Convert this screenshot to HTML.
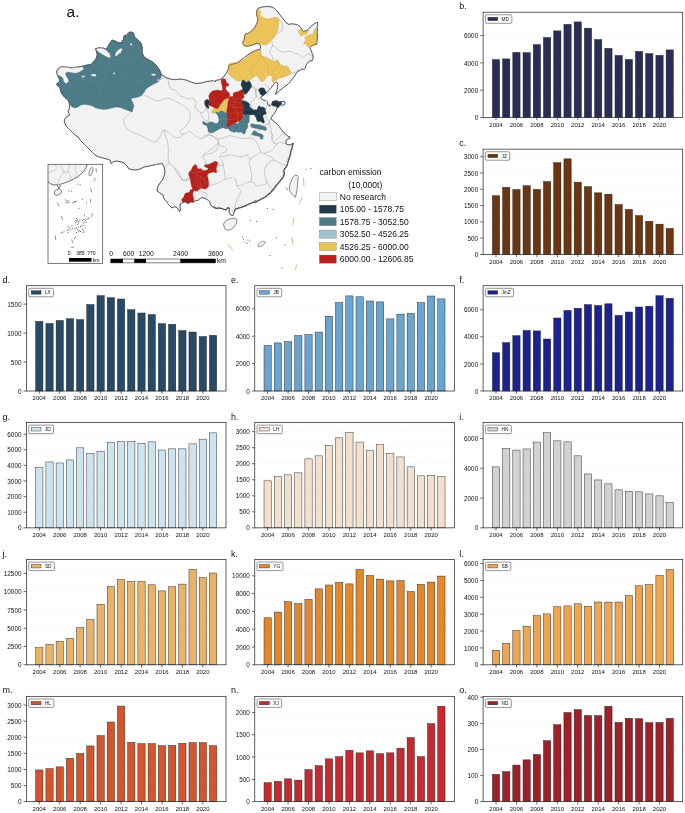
<!DOCTYPE html>
<html lang="en">
<head>
<meta charset="utf-8">
<title>Carbon emission map and city time series</title>
<style>
html,body{margin:0;padding:0;background:#fff;}
body{width:685px;height:813px;overflow:hidden;font-family:"Liberation Sans",sans-serif;}
svg{display:block;will-change:transform;}
</style>
</head>
<body>
<svg width="685" height="813" viewBox="0 0 685 813" font-family="'Liberation Sans', sans-serif">
<rect width="685" height="813" fill="#fff"/>
<text x="66.6" y="16.6" font-size="15.5" fill="#111">a.</text>
<defs><filter id="rough" x="-2%" y="-2%" width="104%" height="104%"><feTurbulence type="fractalNoise" baseFrequency="0.35" numOctaves="2" seed="3" result="n"/><feDisplacementMap in="SourceGraphic" in2="n" scale="1.6" xChannelSelector="R" yChannelSelector="G"/></filter></defs>
<g filter="url(#rough)">
<path d="M56.4,84 59,82.4 60,80 58.4,77 57,74 56.8,71 58.4,68.4 62,66.6 67,67.2 72,68 77,67.2 81,66.6 86,65.2 91,64.6 93.6,61.6 96,58.6 97.2,55 96.6,51.6 95.4,48.8 99,47.8 103.6,48.2 106.2,49.4 108,46.4 110,43 112,40 115,41 119,43 122.4,42 123.6,39 124,36 127,34.4 129,32.4 131,32 133.6,33 134.4,37 138,40 141,43 142.4,48 142,52.4 144,57 148,59.6 152,61.6 156,65 159.6,70 161.6,75 168,78.4 173,79.6 177,79.6 181,79 186,80 191,82 196,83.6 201,83 206,81.6 211,81 216,80.4 220,79.6 223.4,77 226,73.6 228,70 228.6,67 229.4,65 233,64 237,63 241,60 245,57 249,54 253,51.6 257,50 260,49.6 260.6,46.4 259.4,44 257,43.2 254,44.4 250.6,45.6 247,46.4 244,45.6 242.6,43 244,40 244.6,37 245.4,34 249,33 252.6,30 255,27 257,23 258,19 256.6,15 256.6,11 258,8.4 262,7 267,6.4 272,7 274.48,8.44 276.47,10.43 278.45,12.91 280.44,15.39 282.43,17.87 284.41,20.36 286.4,22.84 288.39,24.33 291.36,23.83 294.34,24.03 297.32,24.83 299.81,26.32 301.29,28.3 302.29,30.29 303.78,31.28 306.26,30.78 308.25,29.29 310.23,27.31 312.22,25.32 314.2,23.83 316.19,22.64 317.48,22.34 317.68,24.33 317.18,26.81 317.48,29.79 317.18,32.77 317.48,35.75 317.18,38.73 316.89,41.71 316.69,44.19 314.7,44.69 312.71,45.48 310.73,46.47 309.74,47.67 310.73,49.65 311.72,52.14 312.71,54.62 313.21,57.1 312.71,59.58 311.72,61.07 310.23,60.58 308.74,61.57 307.25,63.56 305.76,65.54 305.61,67.98 303.62,69.47 301.64,68.97 299.65,70.46 297.67,71.45 296.18,73.44 294.69,75.92 293.2,77.91 291.71,79.9 289.72,82.38 287.74,84.36 285.75,85.85 283.76,87.34 281.78,88.83 279.79,90.32 278.3,91.81 276.61,93.8 275.62,94.29 276.02,92.31 276.81,90.32 277.31,88.34 277.61,86.35 277.81,84.36 277.31,82.68 276.02,82.08 274.83,82.87 273.63,84.36 272.34,86.35 270.85,88.34 269.36,89.83 267.87,91.32 266.39,92.81 264.9,94.29 262.91,95.78 261.12,96.78 260.72,98.27 261.72,99.26 263.41,99.96 265.39,100.55 266.88,101.25 267.68,102.74 267.87,104.23 268.87,105.52 270.36,105.91 271.65,104.23 272.34,102.54 273.83,101.25 275.62,100.75 277.61,101.25 279.29,101.94 281.78,101.54 284.26,101.25 284.96,102.74 284.56,104.52 282.77,105.22 280.78,104.92 279.29,106.21 277.81,107.7 276.81,109.19 276.02,110.68 274.83,112.67 273.83,114.16 272.64,115.65 271.65,117.14 271.05,118.62 272.34,120.11 274.33,121.6 276.02,123.09 277.81,124.58 279.29,126.57 280.78,128.56 282.27,130.54 283.76,132.53 285.55,134.02 287.24,135.51 288.93,137 289.26,136.42 289.96,138.41 288.27,138.9 286.58,139.9 285.78,142.38 286.58,144.36 288.76,144.86 291.25,144.36 293.23,143.37 292.74,144.86 292.24,147.34 291.25,149.83 290.75,152.31 290.25,154.79 289.56,157.27 288.76,159.76 287.97,162.24 287.27,164.72 286.28,166.71 284.79,168.69 283.8,170.68 284.29,173.66 283.8,176.14 282.31,178.13 280.82,180.11 279.33,182.1 277.34,184.09 275.85,186.07 274.36,188.56 272.38,190.54 270.39,192.53 268.41,194.51 265.92,196.5 263.44,197.99 260.46,199.48 257.48,200.97 255,202.46 253,202.4 249,204 245,206 241,207.6 237,208.4 234.6,210 234,213 233,215.6 230.6,215 229,212 229.4,208.4 228,207.6 226,210 223,209 220,208 216,208.4 213,207 211.25,205.65 210.25,203.66 209.76,201.67 208.27,200.18 206.28,199.19 204.29,198.2 201.81,197.7 199.83,198.69 198.34,200.18 195.85,200.68 193.87,201.67 192.38,202.17 190.89,201.67 189.4,202.67 187.91,203.46 186.42,202.47 184.93,201.67 183.44,202.47 181.45,203.16 179.97,204.16 180.16,207.14 180.46,209.62 179.47,211.6 177.98,209.12 176.49,207.14 175,206.64 172,208 169,205 167,202 164,199 163,195 160,193 157,191 157.6,187 160,183 163,179 164.4,175 165,171 164,167 162.4,163.6 159,164 154,165 149,166 144,167 140,169 136,170 132,169.6 129,169 127,166 124,163 120,161.6 116,161 113,162 111,163.6 110,160 107,159 103,158 99,157 95,155 92,152 89,149 86,146 83,143 80,140 78,137 75,135 72,132 69,129 66,126 64.4,122 64.4,120 66,117 69.6,115 68,111 69.6,108 69.6,104 68,100 65.6,98 63,95.6 61,92 60,88 57,85Z" fill="#f2f2f2" stroke="#3c3c3c" stroke-width="0.55" stroke-linejoin="round" />
<path d="M161,79 165,78 168,80 169,85 171,89 175,90 178,93 180,96 184,97 188,99 192,98 195,100 196,104 195,108 198,111 201,113 204,112 206.4,108" fill="none" stroke="#8c8c8c" stroke-width="0.4" stroke-linejoin="round" stroke-linecap="round"/>
<path d="M144,95 148,97 152,99 157,101 162,100 166,98 171,99 175,101 179,103 183,105 187,108 190,112 190.4,117 189,121 187,125 184,128 181,130 180,132.4 183,134.4 186,133 189,131" fill="none" stroke="#8c8c8c" stroke-width="0.4" stroke-linejoin="round" stroke-linecap="round"/>
<path d="M132.4,111 128,115 124.4,118 124,124 127,129 132,132 138,134.4 144,137 149,140 153,142 157,141 160,137 162,132 164,129.6 168,132 172,135.6 176,138 180,137 183,134.4" fill="none" stroke="#8c8c8c" stroke-width="0.4" stroke-linejoin="round" stroke-linecap="round"/>
<path d="M164,130 165.6,136 167.6,142 168.4,150 168,158 169,163 166.4,166 163.6,169.6" fill="none" stroke="#8c8c8c" stroke-width="0.4" stroke-linejoin="round" stroke-linecap="round"/>
<path d="M169,163 173,166 176,171 179,176 183,180 188,181 190,178" fill="none" stroke="#8c8c8c" stroke-width="0.4" stroke-linejoin="round" stroke-linecap="round"/>
<path d="M189,131 193,134 197,137 201,139 205,137 209,135 213,136 216,139 219,143 218,147 215.6,151 212,153 208,154 204,156" fill="none" stroke="#8c8c8c" stroke-width="0.4" stroke-linejoin="round" stroke-linecap="round"/>
<path d="M206.4,108 208,112 209,117 208,121 210,124 214,122.4" fill="none" stroke="#8c8c8c" stroke-width="0.4" stroke-linejoin="round" stroke-linecap="round"/>
<path d="M201,113 202,117 205,120 208,121" fill="none" stroke="#8c8c8c" stroke-width="0.4" stroke-linejoin="round" stroke-linecap="round"/>
<path d="M175,167.91 176.99,169.9 178.97,173.37 180.96,177.34 182.45,179.83 184.43,180.32 186.92,179.33 188.9,178.34 189.7,177.34" fill="none" stroke="#8c8c8c" stroke-width="0.4" stroke-linejoin="round" stroke-linecap="round"/>
<path d="M197.34,190.95 199.33,192.24 201.81,191.74 204.79,192.54 206.78,193.73 207.27,195.71 205.78,197.2 204.29,198.2" fill="none" stroke="#8c8c8c" stroke-width="0.4" stroke-linejoin="round" stroke-linecap="round"/>
<path d="M271.9,41.61 272.63,45.26 270.44,49.64 269.71,52.55 271.9,55.47 273.36,60.58" fill="none" stroke="#8c8c8c" stroke-width="0.4" stroke-linejoin="round" stroke-linecap="round"/>
<path d="M289.42,70.8 292.34,72.99 295.26,72.26 298.18,70.07 300.36,71.53" fill="none" stroke="#8c8c8c" stroke-width="0.4" stroke-linejoin="round" stroke-linecap="round"/>
<path d="M278.03,18.98 281.39,21.9 282.85,27.01 281.39,31.39 278.03,32.85" fill="none" stroke="#8c8c8c" stroke-width="0.4" stroke-linejoin="round" stroke-linecap="round"/>
<path d="M250,86.35 251.99,87.34 254.47,88.83 255.96,91.32 255.46,94.29 256.45,96.78 258.94,98.27 260.72,98.27" fill="none" stroke="#8c8c8c" stroke-width="0.4" stroke-linejoin="round" stroke-linecap="round"/>
<path d="M264.9,84.36 266.88,85.85 268.87,87.34 269.86,89.33" fill="none" stroke="#8c8c8c" stroke-width="0.4" stroke-linejoin="round" stroke-linecap="round"/>
<path d="M267.87,104.23 266.39,106.71 264.9,109.19 265.89,111.67 264.9,114.65 266.39,117.63 268.37,120.61 269.36,123.09" fill="none" stroke="#8c8c8c" stroke-width="0.4" stroke-linejoin="round" stroke-linecap="round"/>
<path d="M271.05,118.62 269.86,120.61 269.36,123.09 269.86,126.57 271.35,129.55 270.85,132.53 272.34,134.51 271.35,137.49 272.84,140.47 273.83,143.45" fill="none" stroke="#8c8c8c" stroke-width="0.4" stroke-linejoin="round" stroke-linecap="round"/>
<path d="M283.76,132.53 281.78,134.51 279.79,136.5 277.81,138.49 275.82,140.47" fill="none" stroke="#8c8c8c" stroke-width="0.4" stroke-linejoin="round" stroke-linecap="round"/>
<path d="M269.36,123.09 266.88,124.58 263.9,125.58 260.92,128.56 257.94,130.54 254.97,133.52 251.99,134.51 250,136.5" fill="none" stroke="#8c8c8c" stroke-width="0.4" stroke-linejoin="round" stroke-linecap="round"/>
<path d="M251.64,85.92 254.12,86.92 256.11,88.9 255.61,91.88 257.1,94.86 255.61,97.84 253.62,99.83 251.64,101.32 249.65,104.59" fill="none" stroke="#8c8c8c" stroke-width="0.4" stroke-linejoin="round" stroke-linecap="round"/>
<path d="M256.11,88.9 258.59,90.39" fill="none" stroke="#8c8c8c" stroke-width="0.4" stroke-linejoin="round" stroke-linecap="round"/>
<path d="M266.73,92.87 268.02,94.86" fill="none" stroke="#8c8c8c" stroke-width="0.4" stroke-linejoin="round" stroke-linecap="round"/>
<path d="M272,45.18 274.98,46.67 277.46,49.65 280.44,51.64 283.92,52.14 286.9,51.64 289.87,51.14 292.85,52.14 295.83,54.12 298.32,53.62 300.8,56.11 302.78,57.6 304.77,56.11 306.76,54.62 309.24,54.12 311.72,55.11 312.91,56.6" fill="none" stroke="#8c8c8c" stroke-width="0.4" stroke-linejoin="round" stroke-linecap="round"/>
<path d="M223.36,138.03 229.2,135.55 234.31,136.57 239.42,138.03 243.8,138.76 248.91,138.03 253.28,138.76 256.2,141.68" fill="none" stroke="#8c8c8c" stroke-width="0.4" stroke-linejoin="round" stroke-linecap="round"/>
<path d="M256.2,141.68 258.39,145.33 259.85,148.98 260.58,151.9 264.23,153.36" fill="none" stroke="#8c8c8c" stroke-width="0.4" stroke-linejoin="round" stroke-linecap="round"/>
<path d="M268.61,130 271.53,132.92 272.99,136.57 271.53,140.22 274.45,143.14 276.64,143.87" fill="none" stroke="#8c8c8c" stroke-width="0.4" stroke-linejoin="round" stroke-linecap="round"/>
<path d="M276.64,143.87 274.45,147.52 271.53,150.44 268.61,151.9 264.23,153.36" fill="none" stroke="#8c8c8c" stroke-width="0.4" stroke-linejoin="round" stroke-linecap="round"/>
<path d="M276.64,143.87 279.56,142.41 283.21,143.14 286.86,143.87 289.05,144.6" fill="none" stroke="#8c8c8c" stroke-width="0.4" stroke-linejoin="round" stroke-linecap="round"/>
<path d="M204.38,135.84 208.76,134.38 213.14,136.57 218.98,138.76 223.36,138.03" fill="none" stroke="#8c8c8c" stroke-width="0.4" stroke-linejoin="round" stroke-linecap="round"/>
<path d="M218.98,138.76 218.25,143.14 220.44,146.06 224.82,146.79 227.01,148.98 225.55,151.9 221.9,153.36 219.71,155.55 220.44,158.47 222.63,161.39 223.36,165.04" fill="none" stroke="#8c8c8c" stroke-width="0.4" stroke-linejoin="round" stroke-linecap="round"/>
<path d="M218.25,143.14 214.6,146.06 211.68,148.98 207.3,151.9 203.65,154.09 202.92,157.74 205.84,160.66 204.38,162.85" fill="none" stroke="#8c8c8c" stroke-width="0.4" stroke-linejoin="round" stroke-linecap="round"/>
<path d="M221.9,156.72 227.01,155.55 231.39,154.53 236.5,156.28 241.61,157.01 245.26,155.55 246.72,154.09 248.18,157.01 250.36,158.47 255.47,155.55 260.58,151.9" fill="none" stroke="#8c8c8c" stroke-width="0.4" stroke-linejoin="round" stroke-linecap="round"/>
<path d="M250.36,158.47 248.91,162.85 250.36,167.23 251.09,171.61 251.82,176.72 251.39,181.82 254.74,183.28" fill="none" stroke="#8c8c8c" stroke-width="0.4" stroke-linejoin="round" stroke-linecap="round"/>
<path d="M223.36,165.04 224.09,169.42 224.82,173.8 225.55,177.45 224.09,179.64" fill="none" stroke="#8c8c8c" stroke-width="0.4" stroke-linejoin="round" stroke-linecap="round"/>
<path d="M208.76,186.2 213.14,184.74 217.52,183.28 221.9,181.09 224.09,179.64 228.47,178.18 232.85,177.45 235.77,179.64 236.5,183.28 237.23,186.2 242.34,184.74 246.72,182.55 251.39,181.82" fill="none" stroke="#8c8c8c" stroke-width="0.4" stroke-linejoin="round" stroke-linecap="round"/>
<path d="M237.23,186.2 239.42,188.39 240.88,191.31 239.42,194.96 237.23,198.61 235.77,202.99 235.04,207.37 234.31,211.02" fill="none" stroke="#8c8c8c" stroke-width="0.4" stroke-linejoin="round" stroke-linecap="round"/>
<path d="M254.74,183.28 256.2,186.2 259.85,185.47 264.23,184.74 267.15,183.28 265.69,178.18 264.23,173.8 264.96,168.69 267.15,164.31 270.07,161.39 272.99,159.93 275.18,160.66" fill="none" stroke="#8c8c8c" stroke-width="0.4" stroke-linejoin="round" stroke-linecap="round"/>
<path d="M264.23,153.36 267.15,155.55 271.53,157.01 275.18,160.66 278.83,162.85 282.48,164.31 285.4,165.04" fill="none" stroke="#8c8c8c" stroke-width="0.4" stroke-linejoin="round" stroke-linecap="round"/>
<path d="M267.15,183.28 270.07,186.2 272.26,188.39 272.99,190.58" fill="none" stroke="#8c8c8c" stroke-width="0.4" stroke-linejoin="round" stroke-linecap="round"/>
<path d="M204.38,162.85 208.03,164.31 211.68,162.85 214.6,164.31 217.52,162.85 219.71,165.77 223.36,165.04" fill="none" stroke="#8c8c8c" stroke-width="0.4" stroke-linejoin="round" stroke-linecap="round"/>
<path d="M131,32 133.6,33 134.4,37 138,40 141,43 142.4,48 142,52.4 144,57 148,59.6 152,61.6 156,65 159.6,70 161.6,75 160.8,79 158,82 154,84 149.6,86.4 146,89 144,92.4 141.6,95.6 138,97.2 134,98 131,98.6 132.4,102 134,106 133,109.6 131.6,112 128,110.4 124,109 120,107.6 116,107 112,108 108,109 104,109.6 100,109 96,108 92.4,106 89,105 85,104.4 81,105 78,107 75,108 72,107 69.6,104 68,100 65.6,98 63,95.6 61,92 60,88 57,85 56.4,84 59,82.4 60,80 58.4,77 57,74 56.8,71 58.4,68.4 62,66.6 67,67.2 72,68 77,67.2 81,66.6 86,65.2 91,64.6 93.6,61.6 96,58.6 97.2,55 96.6,51.6 95.4,48.8 99,47.8 103.6,48.2 106.2,49.4 108,46.4 110,43 112,40 115,41 119,43 122.4,42 123.6,39 124,36 127,34.4 129,32.4Z" fill="#4e7b88" stroke="#436c78" stroke-width="0.3" stroke-linejoin="round" />
<path d="M117.43,60.03 120.05,65.28 123.56,68.78 125.31,75.79 132.31,79.29 141.07,82.79" fill="none" stroke="#6b8f9a" stroke-width="0.3" stroke-linejoin="round" stroke-linecap="round"/>
<path d="M107.79,66.16 106.04,75.79 100.79,84.54 99.91,95.05 101.66,107.31" fill="none" stroke="#6b8f9a" stroke-width="0.3" stroke-linejoin="round" stroke-linecap="round"/>
<path d="M83.27,79.29 93.78,82.79 100.79,84.54" fill="none" stroke="#6b8f9a" stroke-width="0.3" stroke-linejoin="round" stroke-linecap="round"/>
<path d="M70.14,88.05 68.39,96.8 69.26,102.06" fill="none" stroke="#6b8f9a" stroke-width="0.3" stroke-linejoin="round" stroke-linecap="round"/>
<path d="M70.14,88.05 76.27,81.04 83.27,79.29" fill="none" stroke="#6b8f9a" stroke-width="0.3" stroke-linejoin="round" stroke-linecap="round"/>
<path d="M127.06,44.26 127.06,54.77 125.31,61.78 117.43,60.03 109.54,59.15 107.79,66.16 93.78,65.28" fill="none" stroke="#6b8f9a" stroke-width="0.3" stroke-linejoin="round" stroke-linecap="round"/>
<path d="M141.07,60.03 141.94,70.53 141.07,82.79" fill="none" stroke="#6b8f9a" stroke-width="0.3" stroke-linejoin="round" stroke-linecap="round"/>
<path d="M125.31,61.78 132.31,59.15 141.07,60.03" fill="none" stroke="#6b8f9a" stroke-width="0.3" stroke-linejoin="round" stroke-linecap="round"/>
<path d="M95.4,48.8 99,47.8 103.6,48.2 106.6,50.4 109.6,53.6 110.8,56.8 109,58 105,56 101,53.6 98,51.6Z" fill="#f2f2f2" stroke="#888" stroke-width="0.3" stroke-linejoin="round" />
<path d="M115,55 116,52.4 118.8,49.6 121.4,48 122.6,49.8 120.2,52.4 117.8,55 116.2,56.6Z" fill="#f2f2f2" stroke="#888" stroke-width="0.3" stroke-linejoin="round" />
<path d="M56.83,73.83 57.44,70.32 59.19,68.13 61.38,66.82 64.45,66.21 67.51,66.38 69.7,67.26 71.89,68.13 74.08,66.82 76.27,66.38 78.9,67.26 81.52,66.82 83.71,67.7 83.27,69.45 81.52,70.76 79.33,72.08 76.71,72.95 73.64,72.95 71.02,72.51 68.39,72.08 66.2,72.51 65.32,73.83 66.2,76.02 67.51,78.2 68.56,80.39 67.95,82.58 66.2,83.46 64.45,82.58 63.57,80.39 62.96,78.2 61.82,76.89 60.07,76.02 58.32,75.58 57.01,74.7Z" fill="#f2f2f2" stroke="#888" stroke-width="0.3" stroke-linejoin="round" />
<path d="M81.09,77.07 82.22,76.02 84.15,75.49 85.2,76.02 84.33,76.89 82.57,77.42Z" fill="#f2f2f2" stroke="#888" stroke-width="0.3" stroke-linejoin="round" />
<path d="M90.72,74.44 92.91,74.09 95.53,74.26 96.41,75.58 95.53,76.54 93.35,76.19 91.33,75.67Z" fill="#f2f2f2" stroke="#888" stroke-width="0.3" stroke-linejoin="round" />
<path d="M150.6,74.4 153.2,73.8 156,74.2 155.6,75.6 152.4,75.8Z" fill="#f2f2f2" stroke="#888" stroke-width="0.3" stroke-linejoin="round" />
<path d="M157.2,79.6 159.2,79.2 159.4,81 157.6,81.2Z" fill="#f2f2f2" stroke="#888" stroke-width="0.3" stroke-linejoin="round" />
<path d="M113.2,72.8 115,72.4 115.2,74 113.4,74.2Z" fill="#f2f2f2" stroke="#888" stroke-width="0.3" stroke-linejoin="round" />
<path d="M130.2,43.6 132,43.2 132.2,45.2 130.4,45.4Z" fill="#f2f2f2" stroke="#888" stroke-width="0.3" stroke-linejoin="round" />
<path d="M256.6,11 259,9.6 261,12 260,15 263,17.6 267,19 271,18.4 275,17 278,18 279,21 278.6,25 278,29 277,33 275,36 272.6,39 270,42 267,44.4 263,45 260,43.6 257,43 254,44.4 250.6,45.6 247,46.4 244,45.6 242.6,43 244,40 244.6,37 245.4,34 249,33 252.6,30 255,27 257,23 258,19 256.6,15Z" fill="#ecc358" stroke="#b8973f" stroke-width="0.3" stroke-linejoin="round" />
<path d="M228.77,64.36 229.97,63.37 231.95,63.07 234.43,62.68 236.92,62.87 238.9,61.88 240.89,60.39 243.37,59.9 244.86,58.41 246.85,56.92 248.83,54.93 250.82,53.44 252.81,51.75 254.79,50.76 256.78,50.16 259.26,49.77 260.75,49.97 260.95,52.45 261.25,55.43 263.23,56.42 265.71,56.92 267.7,57.91 270.18,59.4 272.67,60.89 274.65,61.39 276.64,59.9 278.13,60.39 279.12,62.38 280.11,64.36 282.1,65.36 284.58,66.35 287.07,65.85 288.56,67.84 290.04,70.32 291.04,72.81 290.54,74.29 288.56,75.29 286.57,75.98 284.58,76.78 282.6,77.27 280.61,77.77 278.62,78.76 276.64,79.76 275.15,81.25 273.66,82.24 272.17,81.25 271.67,79.26 272.67,77.27 271.18,75.78 269.19,75.29 267.7,76.28 266.21,77.77 264.72,79.26 263.73,81.25 261.74,81.54 259.76,80.25 259.26,78.27 258.27,76.78 256.78,75.78 254.79,76.28 253.3,77.27 251.81,78.76 249.83,80.25 248.34,81.25 246.35,80.95 244.86,80.25 243.37,79.76 241.39,80.55 239.4,81.25 237.41,80.75 235.43,79.76 233.44,78.27 231.45,76.78 229.47,75.29 227.98,73.8 228.97,71.81 229.47,69.33 228.48,66.85Z" fill="#ecc358" stroke="#b8973f" stroke-width="0.3" stroke-linejoin="round" />
<path d="M305.27,36.74 306.76,35.75 308.74,34.96 310.73,34.76 312.22,34.26 313.51,32.77 314.2,30.29 315.2,28.8 316.49,28.8 316.89,31.78 317.18,35.75 316.89,39.72 316.69,44.19 314.7,44.69 312.71,45.48 310.73,46.47 309.54,47.47 307.95,46.67 306.56,45.48 307.25,44.19 305.76,43.69 303.98,43.89 303.58,42.5 304.77,41.51 306.26,40.71 305.76,39.23 304.57,38.23Z" fill="#ecc358" stroke="#b8973f" stroke-width="0.3" stroke-linejoin="round" />
<path d="M298.02,30.78 299.31,29.79 300.8,29.29 301.79,30.78 303.28,31.98 305.27,31.78 307.25,30.98 308.94,30.29 308.25,32.27 306.76,33.76 305.27,34.56 303.58,34.76 302.29,35.55 300.8,35.95 299.81,34.26 298.81,32.57Z" fill="#ecc358" stroke="#b8973f" stroke-width="0.3" stroke-linejoin="round" />
<path d="M260.95,52.45 259.76,57.91 257.77,61.39 254.79,64.36 251.81,66.35 250.82,70.82 251.81,74.79 253.3,77.27" fill="none" stroke="#b39a52" stroke-width="0.3" stroke-linejoin="round" stroke-linecap="round"/>
<path d="M261.25,55.43 264.72,60.89 268.2,64.86 268.69,68.83 267.7,71.81 269.19,75.29" fill="none" stroke="#b39a52" stroke-width="0.3" stroke-linejoin="round" stroke-linecap="round"/>
<path d="M279.12,62.38 277.63,66.35 274.65,69.83 272.17,73.8 272.67,77.27" fill="none" stroke="#b39a52" stroke-width="0.3" stroke-linejoin="round" stroke-linecap="round"/>
<path d="M282.1,65.36 281.11,69.83 278.62,73.8 275.15,77.77 273.66,82.24" fill="none" stroke="#b39a52" stroke-width="0.3" stroke-linejoin="round" stroke-linecap="round"/>
<path d="M284.58,66.35 284.09,70.82 282.6,74.79 280.61,77.77" fill="none" stroke="#b39a52" stroke-width="0.3" stroke-linejoin="round" stroke-linecap="round"/>
<path d="M288.56,67.84 286.57,71.81 284.58,76.78" fill="none" stroke="#b39a52" stroke-width="0.3" stroke-linejoin="round" stroke-linecap="round"/>
<path d="M202.48,121.67 203.97,121.18 205.76,122.67 207.45,123.16 209.43,122.17 211.42,121.87 213.41,122.67 215.39,123.46 217.38,123.16 218.67,121.67 218.87,119.19 218.37,116.71 217.38,114.72 214.9,112.54 216.39,111.94 218.37,112.24 219.86,110.95 221.65,110.55 223.34,111.25 224.83,111.94 226.61,112.54 227.01,114.23 227.31,116.71 227.61,119.69 227.31,122.17 226.81,124.65 227.01,127.14 228.3,126.64 230.29,125.65 232.27,124.45 234.26,123.46 235.75,122.47 236.74,123.66 238.23,123.86 239.23,121.18 240.71,120.18 242.2,118.69 242.9,116.21 243.69,114.92 245.18,114.72 247.17,114.52 249.16,114.72 249.45,116.71 249.16,119.19 249.45,121.18 248.66,122.67 247.47,124.16 247.86,126.14 247.47,128.13 246.18,129.62 245.68,131.6 244.69,133.59 243.69,134.38 242.2,132.6 240.22,132.1 238.23,132.6 236.25,131.6 234.26,132.4 232.27,131.8 230.29,131.11 228.8,129.62 227.81,128.13 226.32,129.12 224.83,128.62 223.34,127.63 221.35,128.13 219.36,129.12 217.38,130.11 215.89,131.11 213.9,132.1 211.92,132.6 209.93,133.09 208.44,132.1 207.94,130.11 207.75,128.13 206.95,126.14 205.46,125.15 203.48,124.45 202.78,123.16Z" fill="#4e7b88" stroke="#436c78" stroke-width="0.3" stroke-linejoin="round" />
<path d="M250.65,124.16 252.14,123.46 254.12,124.16 256.11,124.45 258.59,124.65 261.07,125.15 263.56,126.14 266.04,127.14 266.73,128.62 266.34,130.11 264.55,130.41 262.56,129.62 260.58,129.42 258.59,129.12 256.6,128.62 254.62,128.13 252.63,127.63 251.14,126.64 250.45,125.45Z" fill="#4e7b88" stroke="#436c78" stroke-width="0.3" stroke-linejoin="round" />
<path d="M253.62,131.11 255.11,130.61 256.41,132.1 258.09,133.09 260.08,133.59 262.07,134.58 263.36,135.58 263.06,137.56 262.36,139.55 260.77,139.05 260.08,137.07 258.59,136.37 256.6,136.07 254.62,135.58 252.63,135.08 251.44,133.79 252.43,132.4Z" fill="#4e7b88" stroke="#436c78" stroke-width="0.3" stroke-linejoin="round" />
<path d="M229.29,97.34 228.8,99.33 228.3,101.32 227.81,103.8 227.61,106.28 227.01,108.76 226.81,111.25 226.61,112.54 224.83,111.94 223.34,111.25 221.65,110.55 219.86,110.95 218.37,112.24 216.39,111.94 214.9,112.54 213.41,113.73 212.12,113.23 211.72,111.25 212.41,109.26 213.9,108.57 215.39,108.27 217.38,108.76 218.67,107.27 219.86,105.29 221.35,103.3 222.84,101.32 224.33,99.83 226.02,98.83 227.81,98.04Z" fill="#ecc358" stroke="#b8973f" stroke-width="0.3" stroke-linejoin="round" />
<path d="M221.35,79.47 223.34,78.48 225.32,79.17 226.02,81.45 227.81,83.44 229.29,84.93 227.81,85.92 226.02,86.42 225.62,88.41 226.61,90.39 228.3,91.88 229.59,93.67 229.79,95.85 229.29,97.34 227.81,98.04 226.02,98.83 224.33,99.83 222.84,101.32 221.35,103.3 219.86,105.29 218.67,107.27 217.38,108.76 215.39,108.27 213.41,107.27 211.42,106.28 209.43,105.59 208.44,104.29 208.94,102.31 209.43,100.32 209.14,98.34 208.74,96.35 209.43,94.36 210.72,92.38 212.41,90.89 214.9,90.39 217.38,90.09 219.86,90.39 222.05,90.69 222.64,88.9 222.34,86.42 221.65,83.94 221.05,81.45Z" fill="#b8211b" stroke="#8f1a15" stroke-width="0.3" stroke-linejoin="round" />
<path d="M242.2,89.9 243.69,90.89 243.89,92.87 243.5,94.86 244.19,96.35 243.69,98.04 242.2,99.33 241.21,101.02 241.71,102.81 242.9,104.79 243.69,106.78 243.5,109.26 242.9,111.25 242.7,113.73 242.9,116.21 242.2,118.69 240.71,120.18 239.23,121.18 237.54,121.87 235.75,122.47 234.26,123.46 232.27,124.45 230.29,125.65 228.3,126.64 227.01,127.14 226.81,124.65 227.31,122.17 227.61,119.69 227.31,116.71 227.01,114.23 226.81,111.25 227.01,108.76 227.61,106.28 227.81,103.8 228.3,101.32 228.8,99.33 229.29,97.34 230.78,96.35 232.27,96.65 233.27,95.36 232.97,93.67 234.26,92.38 236.25,91.88 238.23,91.39 239.72,90.69 240.91,89.9Z" fill="#b8211b" stroke="#8f1a15" stroke-width="0.3" stroke-linejoin="round" />
<path d="M242.2,80.46 243.69,79.97 245.18,81.45 246.67,82.15 248.66,80.96 250.15,81.95 251.14,83.94 251.64,85.92 250.84,87.91 249.65,89.4 248.66,90.89 247.47,92.38 246.18,93.87 244.89,94.66 243.89,92.87 243.69,90.89 242.2,89.9 242.7,87.91 241.71,86.42 240.91,84.43 241.51,82.45Z" fill="#1f3947" stroke="#16282f" stroke-width="0.3" stroke-linejoin="round" />
<path d="M259.09,88.9 260.58,87.91 262.56,87.71 264.35,88.41 265.04,89.9 265.74,91.39 266.73,92.87 265.54,93.87 264.05,94.36 263.06,95.85 261.57,95.36 260.08,93.87 259.38,91.88 258.59,90.39Z" fill="#1f3947" stroke="#16282f" stroke-width="0.3" stroke-linejoin="round" />
<path d="M241.21,101.02 242.7,100.62 244.69,101.02 246.67,101.81 248.66,103 249.65,104.59 249.45,106.58 250.65,107.77 252.14,108.76 253.62,110.25 255.11,109.56 256.41,109.96 257.6,108.76 258.09,106.78 258.79,105.78 260.08,106.58 261.37,107.27 262.76,106.98 264.35,107.77 265.54,108.76 265.04,110.55 266.04,112.24 266.34,113.73 265.04,114.23 263.56,114.72 262.76,116.21 263.36,118.2 264.05,120.18 264.55,122.17 263.56,123.16 262.07,122.47 260.58,121.18 259.09,121.67 257.6,121.47 256.6,119.69 256.11,117.7 255.11,116.21 254.12,114.72 252.63,114.52 251.14,114.92 249.16,114.72 247.17,114.52 245.18,114.72 243.69,114.92 242.9,113.73 242.9,111.25 243.5,109.26 243.69,106.78 242.9,104.79 241.71,102.81Z" fill="#1f3947" stroke="#16282f" stroke-width="0.3" stroke-linejoin="round" />
<path d="M271.65,104.23 272.34,102.54 273.83,101.25 275.62,100.75 277.61,101.25 279.29,101.94 281.28,101.74 281.78,103.23 280.98,104.52 279.79,105.22 278.8,106.51 277.61,107.7 276.32,107.2 275.32,105.91 273.83,106.21 272.64,105.71Z" fill="#1f3947" stroke="#16282f" stroke-width="0.3" stroke-linejoin="round" />
<path d="M205.46,100.32 207.15,99.33 208.74,99.83 209.14,101.81 208.74,104 208.44,105.78 209.14,107.27 208.44,108.76 206.95,107.77 205.46,106.28 204.77,104.29 204.47,102.31Z" fill="#1f3947" stroke="#16282f" stroke-width="0.3" stroke-linejoin="round" />
<path d="M194.36,164.93 195.85,164.43 196.85,165.92 197.05,167.91 198.83,168.9 200.62,168.41 201.81,169.4 203.3,170.39 205.29,170.39 207.27,169.9 208.27,168.41 206.78,167.41 204.79,166.92 204.29,165.43 205.78,164.43 207.77,164.73 209.76,163.94 211.74,163.44 213.23,162.15 214.72,161.16 216.71,161.75 217.9,162.94 217.2,164.93 216.71,166.92 216.21,168.9 216.71,170.89 216.51,172.87 215.22,172.68 213.73,171.88 211.74,172.38 209.76,172.87 208.27,173.87 207.27,175.36 207.77,177.34 208.27,179.83 208.57,182.31 208.76,184.79 208.27,186.78 206.78,188.27 205.29,189.26 203.8,188.76 202.31,188.27 200.62,188.76 198.83,189.76 197.34,190.95 195.85,191.25 194.36,190.55 193.37,191.74 192.68,193.73 192.87,195.71 193.37,197.7 193.87,199.69 193.67,201.67 192.38,202.17 190.89,201.67 189.4,202.67 187.91,203.46 186.42,202.47 184.93,201.67 183.44,202.17 181.95,201.18 181.45,199.69 182.75,198.2 183.94,196.71 184.43,194.72 185.43,193.23 187.41,192.74 189.4,192.24 190.09,190.25 191.39,189.56 192.68,189.26 191.88,187.27 191.09,184.79 190.69,182.31 190.39,179.83 189.7,177.34 188.9,175.36 188.7,173.37 189.7,171.39 191.39,169.9 192.08,167.91 192.87,166.42 193.87,165.43Z" fill="#b8211b" stroke="#8f1a15" stroke-width="0.3" stroke-linejoin="round" />
<path d="M230.78,96.35 232.77,98.34 235.75,98.83 239.23,98.34 242.2,99.33" fill="none" stroke="#cf7671" stroke-width="0.3" stroke-linejoin="round" stroke-linecap="round"/>
<path d="M228.8,99.33 231.78,100.82 234.76,101.81 237.74,102.81 241.71,102.81" fill="none" stroke="#cf7671" stroke-width="0.3" stroke-linejoin="round" stroke-linecap="round"/>
<path d="M227.81,103.8 230.78,104.79 232.77,106.78 235.75,107.77 239.72,107.27 243.69,106.78" fill="none" stroke="#cf7671" stroke-width="0.3" stroke-linejoin="round" stroke-linecap="round"/>
<path d="M234.76,101.81 234.26,104.79 232.77,106.78" fill="none" stroke="#cf7671" stroke-width="0.3" stroke-linejoin="round" stroke-linecap="round"/>
<path d="M227.61,114.23 230.78,113.73 233.76,112.74 237.24,113.23 239.72,112.74 242.9,111.25" fill="none" stroke="#cf7671" stroke-width="0.3" stroke-linejoin="round" stroke-linecap="round"/>
<path d="M235.75,107.77 236.25,110.75 237.24,113.23 237.74,116.71 237.54,121.87" fill="none" stroke="#cf7671" stroke-width="0.3" stroke-linejoin="round" stroke-linecap="round"/>
<path d="M227.31,119.69 229.79,119.19 232.77,119.69 234.76,118.69 237.74,116.71" fill="none" stroke="#cf7671" stroke-width="0.3" stroke-linejoin="round" stroke-linecap="round"/>
<path d="M222.05,90.69 223.34,91.88 226.02,91.39 228.3,91.88" fill="none" stroke="#cf7671" stroke-width="0.3" stroke-linejoin="round" stroke-linecap="round"/>
<path d="M189.7,171.39 192.87,172.87 196.35,172.38 199.83,171.39 203.3,170.39" fill="none" stroke="#cf7671" stroke-width="0.3" stroke-linejoin="round" stroke-linecap="round"/>
<path d="M196.35,172.38 197.34,175.85 196.35,179.33 197.34,183.8 198.83,189.76" fill="none" stroke="#cf7671" stroke-width="0.3" stroke-linejoin="round" stroke-linecap="round"/>
<path d="M197.34,175.85 200.82,176.35 203.8,178.83 207.27,175.36" fill="none" stroke="#cf7671" stroke-width="0.3" stroke-linejoin="round" stroke-linecap="round"/>
<path d="M200.82,176.35 199.83,180.82 201.02,184.79 200.62,188.76" fill="none" stroke="#cf7671" stroke-width="0.3" stroke-linejoin="round" stroke-linecap="round"/>
<path d="M203.8,178.83 204.79,182.81 208.57,182.31" fill="none" stroke="#cf7671" stroke-width="0.3" stroke-linejoin="round" stroke-linecap="round"/>
<path d="M249.65,104.59 251.64,105.78 253.62,110.25" fill="none" stroke="#50697a" stroke-width="0.3" stroke-linejoin="round" stroke-linecap="round"/>
<path d="M257.6,108.76 259.58,110.75 260.08,114.72 262.76,116.21" fill="none" stroke="#50697a" stroke-width="0.3" stroke-linejoin="round" stroke-linecap="round"/>
<path d="M261.57,107.27 262.07,110.75 265.04,110.55" fill="none" stroke="#50697a" stroke-width="0.3" stroke-linejoin="round" stroke-linecap="round"/>
<path d="M254.12,114.72 256.6,114.23 259.58,110.75" fill="none" stroke="#50697a" stroke-width="0.3" stroke-linejoin="round" stroke-linecap="round"/>
<path d="M244.69,101.02 245.18,104.79 243.69,106.78" fill="none" stroke="#50697a" stroke-width="0.3" stroke-linejoin="round" stroke-linecap="round"/>
<path d="M243.5,109.26 246.67,109.76 250.65,107.77" fill="none" stroke="#50697a" stroke-width="0.3" stroke-linejoin="round" stroke-linecap="round"/>
<path d="M218.87,119.19 221.85,119.69 224.83,118.69 227.61,119.69" fill="none" stroke="#7d9ca5" stroke-width="0.3" stroke-linejoin="round" stroke-linecap="round"/>
<path d="M217.38,123.16 219.86,124.65 221.35,128.13" fill="none" stroke="#7d9ca5" stroke-width="0.3" stroke-linejoin="round" stroke-linecap="round"/>
<path d="M238.23,123.86 239.72,126.64 238.73,129.62 238.23,132.6" fill="none" stroke="#7d9ca5" stroke-width="0.3" stroke-linejoin="round" stroke-linecap="round"/>
<path d="M243.69,114.92 244.19,118.69 242.7,121.67 243.69,124.65 247.47,124.16" fill="none" stroke="#7d9ca5" stroke-width="0.3" stroke-linejoin="round" stroke-linecap="round"/>
<path d="M232.27,124.45 233.27,127.63 232.27,131.8" fill="none" stroke="#7d9ca5" stroke-width="0.3" stroke-linejoin="round" stroke-linecap="round"/>
<path d="M209.43,122.17 210.92,126.64 209.93,133.09" fill="none" stroke="#7d9ca5" stroke-width="0.3" stroke-linejoin="round" stroke-linecap="round"/>
<path d="M56.4,84 59,82.4 60,80 58.4,77 57,74 56.8,71 58.4,68.4 62,66.6 67,67.2 72,68 77,67.2 81,66.6 86,65.2 91,64.6 93.6,61.6 96,58.6 97.2,55 96.6,51.6 95.4,48.8 99,47.8 103.6,48.2 106.2,49.4 108,46.4 110,43 112,40 115,41 119,43 122.4,42 123.6,39 124,36 127,34.4 129,32.4 131,32 133.6,33 134.4,37 138,40 141,43 142.4,48 142,52.4 144,57 148,59.6 152,61.6 156,65 159.6,70 161.6,75 168,78.4 173,79.6 177,79.6 181,79 186,80 191,82 196,83.6 201,83 206,81.6 211,81 216,80.4 220,79.6 223.4,77 226,73.6 228,70 228.6,67 229.4,65 233,64 237,63 241,60 245,57 249,54 253,51.6 257,50 260,49.6 260.6,46.4 259.4,44 257,43.2 254,44.4 250.6,45.6 247,46.4 244,45.6 242.6,43 244,40 244.6,37 245.4,34 249,33 252.6,30 255,27 257,23 258,19 256.6,15 256.6,11 258,8.4 262,7 267,6.4 272,7 274.48,8.44 276.47,10.43 278.45,12.91 280.44,15.39 282.43,17.87 284.41,20.36 286.4,22.84 288.39,24.33 291.36,23.83 294.34,24.03 297.32,24.83 299.81,26.32 301.29,28.3 302.29,30.29 303.78,31.28 306.26,30.78 308.25,29.29 310.23,27.31 312.22,25.32 314.2,23.83 316.19,22.64 317.48,22.34 317.68,24.33 317.18,26.81 317.48,29.79 317.18,32.77 317.48,35.75 317.18,38.73 316.89,41.71 316.69,44.19 314.7,44.69 312.71,45.48 310.73,46.47 309.74,47.67 310.73,49.65 311.72,52.14 312.71,54.62 313.21,57.1 312.71,59.58 311.72,61.07 310.23,60.58 308.74,61.57 307.25,63.56 305.76,65.54 305.61,67.98 303.62,69.47 301.64,68.97 299.65,70.46 297.67,71.45 296.18,73.44 294.69,75.92 293.2,77.91 291.71,79.9 289.72,82.38 287.74,84.36 285.75,85.85 283.76,87.34 281.78,88.83 279.79,90.32 278.3,91.81 276.61,93.8 275.62,94.29 276.02,92.31 276.81,90.32 277.31,88.34 277.61,86.35 277.81,84.36 277.31,82.68 276.02,82.08 274.83,82.87 273.63,84.36 272.34,86.35 270.85,88.34 269.36,89.83 267.87,91.32 266.39,92.81 264.9,94.29 262.91,95.78 261.12,96.78 260.72,98.27 261.72,99.26 263.41,99.96 265.39,100.55 266.88,101.25 267.68,102.74 267.87,104.23 268.87,105.52 270.36,105.91 271.65,104.23 272.34,102.54 273.83,101.25 275.62,100.75 277.61,101.25 279.29,101.94 281.78,101.54 284.26,101.25 284.96,102.74 284.56,104.52 282.77,105.22 280.78,104.92 279.29,106.21 277.81,107.7 276.81,109.19 276.02,110.68 274.83,112.67 273.83,114.16 272.64,115.65 271.65,117.14 271.05,118.62 272.34,120.11 274.33,121.6 276.02,123.09 277.81,124.58 279.29,126.57 280.78,128.56 282.27,130.54 283.76,132.53 285.55,134.02 287.24,135.51 288.93,137 289.26,136.42 289.96,138.41 288.27,138.9 286.58,139.9 285.78,142.38 286.58,144.36 288.76,144.86 291.25,144.36 293.23,143.37 292.74,144.86 292.24,147.34 291.25,149.83 290.75,152.31 290.25,154.79 289.56,157.27 288.76,159.76 287.97,162.24 287.27,164.72 286.28,166.71 284.79,168.69 283.8,170.68 284.29,173.66 283.8,176.14 282.31,178.13 280.82,180.11 279.33,182.1 277.34,184.09 275.85,186.07 274.36,188.56 272.38,190.54 270.39,192.53 268.41,194.51 265.92,196.5 263.44,197.99 260.46,199.48 257.48,200.97 255,202.46 253,202.4 249,204 245,206 241,207.6 237,208.4 234.6,210 234,213 233,215.6 230.6,215 229,212 229.4,208.4 228,207.6 226,210 223,209 220,208 216,208.4 213,207 211.25,205.65 210.25,203.66 209.76,201.67 208.27,200.18 206.28,199.19 204.29,198.2 201.81,197.7 199.83,198.69 198.34,200.18 195.85,200.68 193.87,201.67 192.38,202.17 190.89,201.67 189.4,202.67 187.91,203.46 186.42,202.47 184.93,201.67 183.44,202.47 181.45,203.16 179.97,204.16 180.16,207.14 180.46,209.62 179.47,211.6 177.98,209.12 176.49,207.14 175,206.64 172,208 169,205 167,202 164,199 163,195 160,193 157,191 157.6,187 160,183 163,179 164.4,175 165,171 164,167 162.4,163.6 159,164 154,165 149,166 144,167 140,169 136,170 132,169.6 129,169 127,166 124,163 120,161.6 116,161 113,162 111,163.6 110,160 107,159 103,158 99,157 95,155 92,152 89,149 86,146 83,143 80,140 78,137 75,135 72,132 69,129 66,126 64.4,122 64.4,120 66,117 69.6,115 68,111 69.6,108 69.6,104 68,100 65.6,98 63,95.6 61,92 60,88 57,85Z" fill="none" stroke="#3c3c3c" stroke-width="0.55" stroke-linejoin="round"/>
<path d="M292.68,143.19 293.41,144.26 291.92,144.7 292.95,145.76 291.68,146.37 292.81,147.57 291.56,148.03 292.25,149.27 290.89,149.76 291.73,150.78 290.54,151.41 291.14,152.39 289.94,153.01 291.37,154.15 289.84,154.68 290.5,155.75 289.01,156.23 290.57,157.6 288.56,157.87 289.63,159.12 287.73,159.43 288.85,160.7 287.29,161.11 288.5,162.39 287.31,162.95 287.91,164.01 286.77,164.47 287.8,165.81 286.19,165.84 286.9,167.17 285.13,166.88 285.78,168.4 284.12,168.36 284.8,169.53 283.79,169.85 284.28,170.6 283.08,171.57 284.7,172.06 283.61,173.01 285.06,173.81 283.46,174.35 284.51,175.42 283.05,175.58 284,177.32 282.39,177.16 282.93,178.59 281.22,178.35 282.12,180.05 280.11,179.58 280.76,181.11 278.96,180.79 279.63,182.4 278.37,182.14 278.98,183.74 277.52,183.27 277.91,184.51 276.56,184.53 277.03,185.92 275.07,185.6 276.14,187.09 274.25,186.8 275.23,188.23 273.75,187.94 274.42,189.61 272.82,189 273.36,190.53 271.69,189.85 272.63,191.79 270.89,191.04 271.48,192.63 270.13,192.26 270.51,193.64 268.81,192.93 269.68,194.79 267.8,193.76 268.13,195.44 266.77,195.02 267.07,196.66 265.74,196.2 265.66,197.46 264.45,196.85 264.28,197.98 263.27,197.65 263.11,199.19 261.76,198.35 261.44,199.57 260.18,198.91 260.16,200.75 258.8,199.87 258.53,201.2 257.1,200.32 257.38,202.21 255.75,200.89 256.13,202.94 255,202.46" fill="none" stroke="#303030" stroke-width="0.45" stroke-linejoin="round" stroke-linecap="round"/>
<path d="M255.74,200.01 255.6,201.1 254.42,200.63 254.38,201.86 253.26,201.49 253.19,202.86 252.22,202.38 251.89,203.48 250.89,202.93 250.54,203.97 249.55,203.44 249.15,204.29 248.09,203.85 248.02,205.37 246.84,204.69 246.52,205.7 245.37,205.07 245.32,206.81 244.1,205.68 243.86,207.02 242.67,205.98 242.44,207.34 241.37,206.58 241.09,208.04 240.13,207.41 239.47,208.26 238.51,207.62 237.95,209.01 236.79,208.08 236.75,209.33 235.43,208.64 235.48,210.02 234.6,210" fill="none" stroke="#303030" stroke-width="0.45" stroke-linejoin="round" stroke-linecap="round"/>
<path d="M229.64,207.99 228.52,208.32 227.48,207.16 227.74,208.4 226.53,208.41 226.88,209.72 226.1,209.71 225.06,210.31 224.59,209.22 223.58,209.77 223.1,208.7 222.15,209.06 221.67,207.99 220.5,209 219.97,207.65 219.24,208.49 218.33,207.5 217.69,209.1 216.74,207.69 215.78,208.87 215.62,207.25 214.37,207.97 214.09,206.62 213,207" fill="none" stroke="#303030" stroke-width="0.45" stroke-linejoin="round" stroke-linecap="round"/>
<path d="M223.4,224 226,220.4 230,219 234,218 237,219.6 236.6,223 234.6,226.4 231.4,229.2 227.4,230.4 224.6,228.4Z" fill="#f2f2f2" stroke="#3c3c3c" stroke-width="0.6" stroke-linejoin="round" />
<path d="M295.22,175.15 297.2,175.65 298.2,176.64 297.9,180.61 297.5,184.58 297.2,188.56 296.51,192.53 295.71,196 295.22,197.49 293.73,196 291.74,194.02 289.96,191.53 289.26,188.56 289.76,185.08 290.95,181.6 292.54,178.13 293.93,176.14Z" fill="#f2f2f2" stroke="#3c3c3c" stroke-width="0.6" stroke-linejoin="round" />
<path d="M258,245 260,242.4 263.4,241.2 265.4,242 264.2,244.4 261,246.4 258.6,246.8Z" fill="#f2f2f2" stroke="#444" stroke-width="0.5" stroke-linejoin="round" />
<circle cx="267.4" cy="208.4" r="0.5" fill="#333"/>
<circle cx="273" cy="209.6" r="0.5" fill="#333"/>
<circle cx="250.6" cy="220.4" r="0.5" fill="#333"/>
<circle cx="256.6" cy="221.6" r="0.5" fill="#333"/>
<circle cx="242.6" cy="237" r="0.5" fill="#333"/>
<circle cx="245" cy="242" r="0.5" fill="#333"/>
<circle cx="248" cy="240" r="0.5" fill="#333"/>
<circle cx="250" cy="241" r="0.5" fill="#333"/>
<circle cx="276.6" cy="238" r="0.5" fill="#333"/>
<circle cx="285" cy="245" r="0.5" fill="#333"/>
<circle cx="270" cy="255.6" r="0.5" fill="#333"/>
<circle cx="282" cy="268" r="0.5" fill="#333"/>
<circle cx="243.4" cy="239.6" r="0.5" fill="#333"/>
<circle cx="247" cy="243.6" r="0.5" fill="#333"/>
<circle cx="286" cy="188" r="0.5" fill="#333"/>
<circle cx="287.4" cy="189.6" r="0.5" fill="#333"/>
<circle cx="306" cy="169.6" r="0.5" fill="#333"/>
<circle cx="311" cy="168.4" r="0.5" fill="#333"/>
<path d="M303.4,178 304,186" fill="none" stroke="#a3a23c" stroke-width="0.6" stroke-linejoin="round" stroke-linecap="round"/>
<path d="M302,197 299.4,204" fill="none" stroke="#a3a23c" stroke-width="0.6" stroke-linejoin="round" stroke-linecap="round"/>
<path d="M294,218 292.6,225" fill="none" stroke="#a3a23c" stroke-width="0.6" stroke-linejoin="round" stroke-linecap="round"/>
<path d="M292,238 293,244.4" fill="none" stroke="#a3a23c" stroke-width="0.6" stroke-linejoin="round" stroke-linecap="round"/>
<path d="M296.6,265 295.4,270" fill="none" stroke="#a3a23c" stroke-width="0.6" stroke-linejoin="round" stroke-linecap="round"/>
<path d="M228.6,244.4 230.6,247.2 232.6,250.4" fill="none" stroke="#a3a23c" stroke-width="0.6" stroke-linejoin="round" stroke-linecap="round"/>
</g>
<g>
<clipPath id="ic"><rect x="48.0" y="164.25" width="54.7" height="99.05000000000001"/></clipPath>
<g clip-path="url(#ic)">
<path d="M46.66,162.66 46.66,181.91 47.98,181.91 50.64,183.9 54.62,184.97 57.81,184.7 57.68,186.56 58.87,188.42 60.2,186.56 59.67,184.44 62.59,183.64 66.58,182.31 70.56,180.58 74.54,178.59 77.86,176.6 81.18,173.94 83.84,171.29 85.83,167.97 87.16,164.65 87.56,162.66Z" fill="#f2f2f2" stroke-linejoin="round" />
<path d="M47.98,181.91 50.64,183.9 54.62,184.97 57.81,184.7 57.68,186.56 58.87,188.42 60.2,186.56 59.67,184.44 62.59,183.64 66.58,182.31 70.56,180.58 74.54,178.59 77.86,176.6 81.18,173.94 83.84,171.29 85.83,167.97 87.16,164.65 87.56,162.66" fill="none" stroke="#2e2e2e" stroke-width="0.7" stroke-linejoin="round" stroke-linecap="round"/>
<path d="M55.29,164.65 56.62,167.97 54.62,170.62 51.3,171.29 48.65,172.62" fill="none" stroke="#8c8c8c" stroke-width="0.35" stroke-linejoin="round" stroke-linecap="round"/>
<path d="M61.26,164.65 61,168.23 63.92,170.62 62.59,173.94 59.94,177.26 58.61,181.25 57.94,184.57" fill="none" stroke="#8c8c8c" stroke-width="0.35" stroke-linejoin="round" stroke-linecap="round"/>
<path d="M68.57,164.65 69.23,167.97 67.9,171.95 65.25,173.28 63.92,170.62" fill="none" stroke="#8c8c8c" stroke-width="0.35" stroke-linejoin="round" stroke-linecap="round"/>
<path d="M75.87,164.65 75.21,169.3 76.54,173.28 75.21,176.6 74.54,178.59" fill="none" stroke="#8c8c8c" stroke-width="0.35" stroke-linejoin="round" stroke-linecap="round"/>
<path d="M67.9,171.95 70.56,175.94 70.56,180.58" fill="none" stroke="#8c8c8c" stroke-width="0.35" stroke-linejoin="round" stroke-linecap="round"/>
<ellipse cx="57.94" cy="192.14" rx="3.8" ry="2.8" fill="#f2f2f2" stroke="#2e2e2e" stroke-width="0.55" transform="rotate(-25 57.94 192.14)"/>
<path d="M92.07,167.3 93.14,168.23 92.87,171.29 91.81,173.94 90.48,175.94 89.15,175.27 88.89,173.28 89.42,170.89 90.48,168.63Z" fill="#f2f2f2" stroke="#2e2e2e" stroke-width="0.5" stroke-linejoin="round" />
<path d="M96.06,168.63 96.46,171.95" fill="none" stroke="#2e2e2e" stroke-width="0.5" stroke-linejoin="round" stroke-linecap="round"/>
<path d="M94.2,177.93 95.53,179.92" fill="none" stroke="#2e2e2e" stroke-width="0.5" stroke-linejoin="round" stroke-linecap="round"/>
<path d="M94.46,180.58 93.4,181.51" fill="none" stroke="#2e2e2e" stroke-width="0.5" stroke-linejoin="round" stroke-linecap="round"/>
<path d="M90.75,188.55 91.54,191.87" fill="none" stroke="#2e2e2e" stroke-width="0.5" stroke-linejoin="round" stroke-linecap="round"/>
<path d="M90.48,199.18 90.75,202.76" fill="none" stroke="#2e2e2e" stroke-width="0.5" stroke-linejoin="round" stroke-linecap="round"/>
<path d="M92.47,213.39 91.81,216.84" fill="none" stroke="#2e2e2e" stroke-width="0.5" stroke-linejoin="round" stroke-linecap="round"/>
<path d="M57.28,202.5 59.27,205.82" fill="none" stroke="#2e2e2e" stroke-width="0.5" stroke-linejoin="round" stroke-linecap="round"/>
<path d="M61.53,216.44 62.33,219.76" fill="none" stroke="#2e2e2e" stroke-width="0.5" stroke-linejoin="round" stroke-linecap="round"/>
<path d="M55.29,235.96 55.69,239.42" fill="none" stroke="#2e2e2e" stroke-width="0.5" stroke-linejoin="round" stroke-linecap="round"/>
<path d="M60.6,233.31 62.33,232.51" fill="none" stroke="#2e2e2e" stroke-width="0.5" stroke-linejoin="round" stroke-linecap="round"/>
<path d="M63.12,232.11 64.19,231.58" fill="none" stroke="#2e2e2e" stroke-width="0.5" stroke-linejoin="round" stroke-linecap="round"/>
<path d="M71.22,247.65 73.88,246.99" fill="none" stroke="#2e2e2e" stroke-width="0.5" stroke-linejoin="round" stroke-linecap="round"/>
<path d="M71.89,239.68 72.42,242.6" fill="none" stroke="#2e2e2e" stroke-width="0.5" stroke-linejoin="round" stroke-linecap="round"/>
<path d="M72.95,203.16 74.28,201.97 76.14,201.43" fill="none" stroke="#2e2e2e" stroke-width="0.8" stroke-linejoin="round" stroke-linecap="round"/>
<rect x="77.51" y="183.82" width="0.85" height="0.85" fill="#2a2a2a"/>
<rect x="79.77" y="184.48" width="0.85" height="0.85" fill="#2a2a2a"/>
<rect x="68.22" y="190.46" width="0.85" height="0.85" fill="#2a2a2a"/>
<rect x="70.87" y="190.86" width="0.85" height="0.85" fill="#2a2a2a"/>
<rect x="82.16" y="198.83" width="0.85" height="0.85" fill="#2a2a2a"/>
<rect x="86.15" y="202.41" width="0.85" height="0.85" fill="#2a2a2a"/>
<rect x="78.44" y="208.12" width="0.85" height="0.85" fill="#2a2a2a"/>
<rect x="64.9" y="199.49" width="0.85" height="0.85" fill="#2a2a2a"/>
<rect x="66.49" y="200.82" width="0.85" height="0.85" fill="#2a2a2a"/>
<rect x="65.56" y="201.88" width="0.85" height="0.85" fill="#2a2a2a"/>
<rect x="67.82" y="200.15" width="0.85" height="0.85" fill="#2a2a2a"/>
<rect x="68.62" y="201.88" width="0.85" height="0.85" fill="#2a2a2a"/>
<rect x="67.29" y="202.41" width="0.85" height="0.85" fill="#2a2a2a"/>
<rect x="76.19" y="218.08" width="0.85" height="0.85" fill="#2a2a2a"/>
<rect x="77.12" y="219.41" width="0.85" height="0.85" fill="#2a2a2a"/>
<rect x="76.58" y="220.74" width="0.85" height="0.85" fill="#2a2a2a"/>
<rect x="75.52" y="222.07" width="0.85" height="0.85" fill="#2a2a2a"/>
<rect x="77.91" y="222.73" width="0.85" height="0.85" fill="#2a2a2a"/>
<rect x="76.85" y="224.06" width="0.85" height="0.85" fill="#2a2a2a"/>
<rect x="78.44" y="221" width="0.85" height="0.85" fill="#2a2a2a"/>
<rect x="79.51" y="219.41" width="0.85" height="0.85" fill="#2a2a2a"/>
<rect x="82.16" y="220.07" width="0.85" height="0.85" fill="#2a2a2a"/>
<rect x="83.49" y="219.15" width="0.85" height="0.85" fill="#2a2a2a"/>
<rect x="85.08" y="219.68" width="0.85" height="0.85" fill="#2a2a2a"/>
<rect x="86.41" y="218.75" width="0.85" height="0.85" fill="#2a2a2a"/>
<rect x="87.74" y="218.08" width="0.85" height="0.85" fill="#2a2a2a"/>
<rect x="88.8" y="217.42" width="0.85" height="0.85" fill="#2a2a2a"/>
<rect x="84.15" y="221.4" width="0.85" height="0.85" fill="#2a2a2a"/>
<rect x="85.88" y="222.07" width="0.85" height="0.85" fill="#2a2a2a"/>
<rect x="82.83" y="222.73" width="0.85" height="0.85" fill="#2a2a2a"/>
<rect x="81.5" y="224.72" width="0.85" height="0.85" fill="#2a2a2a"/>
<rect x="83.49" y="224.99" width="0.85" height="0.85" fill="#2a2a2a"/>
<rect x="80.17" y="226.05" width="0.85" height="0.85" fill="#2a2a2a"/>
<rect x="78.18" y="226.72" width="0.85" height="0.85" fill="#2a2a2a"/>
<rect x="76.19" y="227.38" width="0.85" height="0.85" fill="#2a2a2a"/>
<rect x="74.46" y="228.04" width="0.85" height="0.85" fill="#2a2a2a"/>
<rect x="76.85" y="229.37" width="0.85" height="0.85" fill="#2a2a2a"/>
<rect x="78.84" y="230.04" width="0.85" height="0.85" fill="#2a2a2a"/>
<rect x="80.17" y="231.1" width="0.85" height="0.85" fill="#2a2a2a"/>
<rect x="77.91" y="231.36" width="0.85" height="0.85" fill="#2a2a2a"/>
<rect x="76.19" y="232.03" width="0.85" height="0.85" fill="#2a2a2a"/>
<rect x="82.16" y="228.71" width="0.85" height="0.85" fill="#2a2a2a"/>
<rect x="83.49" y="230.7" width="0.85" height="0.85" fill="#2a2a2a"/>
<rect x="84.82" y="227.38" width="0.85" height="0.85" fill="#2a2a2a"/>
<rect x="82.83" y="232.03" width="0.85" height="0.85" fill="#2a2a2a"/>
<rect x="67.55" y="226.05" width="0.85" height="0.85" fill="#2a2a2a"/>
<rect x="69.55" y="227.38" width="0.85" height="0.85" fill="#2a2a2a"/>
<rect x="71.54" y="225.39" width="0.85" height="0.85" fill="#2a2a2a"/>
<rect x="68.22" y="228.71" width="0.85" height="0.85" fill="#2a2a2a"/>
<rect x="66.89" y="230.04" width="0.85" height="0.85" fill="#2a2a2a"/>
<rect x="70.21" y="229.37" width="0.85" height="0.85" fill="#2a2a2a"/>
<rect x="72.2" y="228.04" width="0.85" height="0.85" fill="#2a2a2a"/>
<rect x="67.55" y="232.03" width="0.85" height="0.85" fill="#2a2a2a"/>
<rect x="74.86" y="236.68" width="0.85" height="0.85" fill="#2a2a2a"/>
<rect x="73.93" y="238.27" width="0.85" height="0.85" fill="#2a2a2a"/>
<rect x="84.15" y="214.76" width="0.85" height="0.85" fill="#2a2a2a"/>
<rect x="75.52" y="220.07" width="0.85" height="0.85" fill="#2a2a2a"/>
</g>
<rect x="48.0" y="164.25" width="54.7" height="99.05" fill="none" stroke="#333" stroke-width="0.65"/>
<rect x="69" y="258" width="22.5" height="3.7" fill="#000"/>
<text x="69.2" y="255.2" font-size="5.1" text-anchor="middle" fill="#111">0</text>
<text x="80.4" y="255.2" font-size="5.1" text-anchor="middle" fill="#111">385</text>
<text x="91.4" y="255.2" font-size="5.1" text-anchor="middle" fill="#111">770</text>
<text x="92.8" y="261.6" font-size="5.1" fill="#111">km</text>
</g>
<g>
<rect x="110.8" y="259.0" width="104.7" height="3.8999999999999773" fill="#fff" stroke="#000" stroke-width="0.5"/>
<rect x="110.8" y="259.0" width="12.1" height="3.9" fill="#000"/>
<rect x="134.3" y="259.0" width="11.7" height="3.9" fill="#000"/>
<rect x="180.3" y="259.0" width="35.2" height="3.9" fill="#000"/>
<text x="111.2" y="256" font-size="6.8" text-anchor="middle" fill="#111">0</text>
<text x="128.6" y="256" font-size="6.8" text-anchor="middle" fill="#111">600</text>
<text x="146.2" y="256" font-size="6.8" text-anchor="middle" fill="#111">1200</text>
<text x="180.5" y="256" font-size="6.8" text-anchor="middle" fill="#111">2400</text>
<text x="215.5" y="256" font-size="6.8" text-anchor="middle" fill="#111">3600</text>
<text x="216.9" y="263" font-size="6.8" fill="#111">km</text>
</g>
<g>
<text x="319.6" y="175.0" font-size="8.5" fill="#111">carbon emission</text>
<text x="348.2" y="187.9" font-size="8.5" fill="#111">(10,000t)</text>
<rect x="319.3" y="192.6" width="17" height="8.2" fill="#f2f2f2" stroke="#8a8a8a" stroke-width="0.4"/>
<text x="339.8" y="199.75" font-size="8.5" fill="#111">No research</text>
<rect x="319.3" y="205.08" width="17" height="8.2" fill="#1f3947" stroke="#8a8a8a" stroke-width="0.4"/>
<text x="339.8" y="212.23" font-size="8.5" fill="#111">105.00 - 1578.75</text>
<rect x="319.3" y="217.56" width="17" height="8.2" fill="#4e7b88" stroke="#8a8a8a" stroke-width="0.4"/>
<text x="339.8" y="224.71" font-size="8.5" fill="#111">1578.75 - 3052.50</text>
<rect x="319.3" y="230.04" width="17" height="8.2" fill="#a4c2ca" stroke="#8a8a8a" stroke-width="0.4"/>
<text x="339.8" y="237.19" font-size="8.5" fill="#111">3052.50 - 4526.25</text>
<rect x="319.3" y="242.52" width="17" height="8.2" fill="#ecc358" stroke="#8a8a8a" stroke-width="0.4"/>
<text x="339.8" y="249.67" font-size="8.5" fill="#111">4526.25 - 6000.00</text>
<rect x="319.3" y="255" width="17" height="8.2" fill="#b8211b" stroke="#8a8a8a" stroke-width="0.4"/>
<text x="339.8" y="262.15" font-size="8.5" fill="#111">6000.00 - 12606.85</text>
</g>
<g>
<text x="459.3" y="9.2" font-size="9" fill="#111">b.</text>
<line x1="483.1" y1="90.2" x2="682.7" y2="90.2" stroke="#dcdcdc" stroke-width="0.45" stroke-dasharray="0.5 0.8"/>
<line x1="483.1" y1="62.9" x2="682.7" y2="62.9" stroke="#dcdcdc" stroke-width="0.45" stroke-dasharray="0.5 0.8"/>
<line x1="483.1" y1="35.6" x2="682.7" y2="35.6" stroke="#dcdcdc" stroke-width="0.45" stroke-dasharray="0.5 0.8"/>
<rect x="492.37" y="59.6" width="7.27" height="57.9" fill="#2b2d58" stroke="#202020" stroke-width="0.45"/>
<rect x="502.59" y="58.9" width="7.27" height="58.6" fill="#2b2d58" stroke="#202020" stroke-width="0.45"/>
<rect x="512.81" y="52.4" width="7.27" height="65.1" fill="#2b2d58" stroke="#202020" stroke-width="0.45"/>
<rect x="523.03" y="52.6" width="7.27" height="64.9" fill="#2b2d58" stroke="#202020" stroke-width="0.45"/>
<rect x="533.25" y="44.6" width="7.27" height="72.9" fill="#2b2d58" stroke="#202020" stroke-width="0.45"/>
<rect x="543.47" y="37.5" width="7.27" height="80" fill="#2b2d58" stroke="#202020" stroke-width="0.45"/>
<rect x="553.69" y="30.9" width="7.27" height="86.6" fill="#2b2d58" stroke="#202020" stroke-width="0.45"/>
<rect x="563.91" y="24.4" width="7.27" height="93.1" fill="#2b2d58" stroke="#202020" stroke-width="0.45"/>
<rect x="574.13" y="21.9" width="7.27" height="95.6" fill="#2b2d58" stroke="#202020" stroke-width="0.45"/>
<rect x="584.35" y="28.2" width="7.27" height="89.3" fill="#2b2d58" stroke="#202020" stroke-width="0.45"/>
<rect x="594.57" y="39.5" width="7.27" height="78" fill="#2b2d58" stroke="#202020" stroke-width="0.45"/>
<rect x="604.79" y="48.4" width="7.27" height="69.1" fill="#2b2d58" stroke="#202020" stroke-width="0.45"/>
<rect x="615.01" y="55.4" width="7.27" height="62.1" fill="#2b2d58" stroke="#202020" stroke-width="0.45"/>
<rect x="625.23" y="59.4" width="7.27" height="58.1" fill="#2b2d58" stroke="#202020" stroke-width="0.45"/>
<rect x="635.45" y="51.4" width="7.27" height="66.1" fill="#2b2d58" stroke="#202020" stroke-width="0.45"/>
<rect x="645.67" y="53.6" width="7.27" height="63.9" fill="#2b2d58" stroke="#202020" stroke-width="0.45"/>
<rect x="655.89" y="55.3" width="7.27" height="62.2" fill="#2b2d58" stroke="#202020" stroke-width="0.45"/>
<rect x="666.11" y="49.9" width="7.27" height="67.6" fill="#2b2d58" stroke="#202020" stroke-width="0.45"/>
<rect x="483.1" y="12.2" width="199.6" height="105.3" fill="none" stroke="#2a2a2a" stroke-width="0.75"/>
<line x1="480.2" y1="117.5" x2="483.1" y2="117.5" stroke="#2a2a2a" stroke-width="0.7"/>
<text x="478.2" y="120.1" font-size="6.4" text-anchor="end" fill="#111">0</text>
<line x1="480.2" y1="90.2" x2="483.1" y2="90.2" stroke="#2a2a2a" stroke-width="0.7"/>
<text x="478.2" y="92.8" font-size="6.4" text-anchor="end" fill="#111">2000</text>
<line x1="480.2" y1="62.9" x2="483.1" y2="62.9" stroke="#2a2a2a" stroke-width="0.7"/>
<text x="478.2" y="65.5" font-size="6.4" text-anchor="end" fill="#111">4000</text>
<line x1="480.2" y1="35.6" x2="483.1" y2="35.6" stroke="#2a2a2a" stroke-width="0.7"/>
<text x="478.2" y="38.2" font-size="6.4" text-anchor="end" fill="#111">6000</text>
<line x1="496" y1="117.5" x2="496" y2="120.3" stroke="#2a2a2a" stroke-width="0.7"/>
<text x="496" y="126.7" font-size="6" text-anchor="middle" fill="#111">2004</text>
<line x1="516.45" y1="117.5" x2="516.45" y2="120.3" stroke="#2a2a2a" stroke-width="0.7"/>
<text x="516.45" y="126.7" font-size="6" text-anchor="middle" fill="#111">2006</text>
<line x1="536.88" y1="117.5" x2="536.88" y2="120.3" stroke="#2a2a2a" stroke-width="0.7"/>
<text x="536.88" y="126.7" font-size="6" text-anchor="middle" fill="#111">2008</text>
<line x1="557.33" y1="117.5" x2="557.33" y2="120.3" stroke="#2a2a2a" stroke-width="0.7"/>
<text x="557.33" y="126.7" font-size="6" text-anchor="middle" fill="#111">2010</text>
<line x1="577.76" y1="117.5" x2="577.76" y2="120.3" stroke="#2a2a2a" stroke-width="0.7"/>
<text x="577.76" y="126.7" font-size="6" text-anchor="middle" fill="#111">2012</text>
<line x1="598.21" y1="117.5" x2="598.21" y2="120.3" stroke="#2a2a2a" stroke-width="0.7"/>
<text x="598.21" y="126.7" font-size="6" text-anchor="middle" fill="#111">2014</text>
<line x1="618.64" y1="117.5" x2="618.64" y2="120.3" stroke="#2a2a2a" stroke-width="0.7"/>
<text x="618.64" y="126.7" font-size="6" text-anchor="middle" fill="#111">2016</text>
<line x1="639.09" y1="117.5" x2="639.09" y2="120.3" stroke="#2a2a2a" stroke-width="0.7"/>
<text x="639.09" y="126.7" font-size="6" text-anchor="middle" fill="#111">2018</text>
<line x1="659.52" y1="117.5" x2="659.52" y2="120.3" stroke="#2a2a2a" stroke-width="0.7"/>
<text x="659.52" y="126.7" font-size="6" text-anchor="middle" fill="#111">2020</text>
<rect x="485.4" y="14.8" width="26.46" height="8.5" rx="1.3" fill="#fff" stroke="#2a2a2a" stroke-width="0.5"/>
<rect x="487.9" y="17.25" width="9.8" height="3.4" fill="#2b2d58" stroke="#202020" stroke-width="0.4"/>
<text x="501.6" y="20.7" font-size="4.8" fill="#111">MD</text>
</g>
<g>
<text x="459.3" y="146.15" font-size="9" fill="#111">c.</text>
<line x1="483.1" y1="238.15" x2="682.7" y2="238.15" stroke="#dcdcdc" stroke-width="0.45" stroke-dasharray="0.5 0.8"/>
<line x1="483.1" y1="221.85" x2="682.7" y2="221.85" stroke="#dcdcdc" stroke-width="0.45" stroke-dasharray="0.5 0.8"/>
<line x1="483.1" y1="205.55" x2="682.7" y2="205.55" stroke="#dcdcdc" stroke-width="0.45" stroke-dasharray="0.5 0.8"/>
<line x1="483.1" y1="189.25" x2="682.7" y2="189.25" stroke="#dcdcdc" stroke-width="0.45" stroke-dasharray="0.5 0.8"/>
<line x1="483.1" y1="172.95" x2="682.7" y2="172.95" stroke="#dcdcdc" stroke-width="0.45" stroke-dasharray="0.5 0.8"/>
<line x1="483.1" y1="156.65" x2="682.7" y2="156.65" stroke="#dcdcdc" stroke-width="0.45" stroke-dasharray="0.5 0.8"/>
<rect x="492.37" y="195.75" width="7.27" height="58.7" fill="#6b3611" stroke="#202020" stroke-width="0.45"/>
<rect x="502.59" y="187.25" width="7.27" height="67.2" fill="#6b3611" stroke="#202020" stroke-width="0.45"/>
<rect x="512.81" y="189.55" width="7.27" height="64.9" fill="#6b3611" stroke="#202020" stroke-width="0.45"/>
<rect x="523.03" y="185.75" width="7.27" height="68.7" fill="#6b3611" stroke="#202020" stroke-width="0.45"/>
<rect x="533.25" y="189.35" width="7.27" height="65.1" fill="#6b3611" stroke="#202020" stroke-width="0.45"/>
<rect x="543.47" y="181.55" width="7.27" height="72.9" fill="#6b3611" stroke="#202020" stroke-width="0.45"/>
<rect x="553.69" y="162.65" width="7.27" height="91.8" fill="#6b3611" stroke="#202020" stroke-width="0.45"/>
<rect x="563.91" y="158.85" width="7.27" height="95.6" fill="#6b3611" stroke="#202020" stroke-width="0.45"/>
<rect x="574.13" y="182.15" width="7.27" height="72.3" fill="#6b3611" stroke="#202020" stroke-width="0.45"/>
<rect x="584.35" y="186.65" width="7.27" height="67.8" fill="#6b3611" stroke="#202020" stroke-width="0.45"/>
<rect x="594.57" y="192.85" width="7.27" height="61.6" fill="#6b3611" stroke="#202020" stroke-width="0.45"/>
<rect x="604.79" y="194.15" width="7.27" height="60.3" fill="#6b3611" stroke="#202020" stroke-width="0.45"/>
<rect x="615.01" y="204.55" width="7.27" height="49.9" fill="#6b3611" stroke="#202020" stroke-width="0.45"/>
<rect x="625.23" y="209.35" width="7.27" height="45.1" fill="#6b3611" stroke="#202020" stroke-width="0.45"/>
<rect x="635.45" y="215.55" width="7.27" height="38.9" fill="#6b3611" stroke="#202020" stroke-width="0.45"/>
<rect x="645.67" y="221.25" width="7.27" height="33.2" fill="#6b3611" stroke="#202020" stroke-width="0.45"/>
<rect x="655.89" y="224.15" width="7.27" height="30.3" fill="#6b3611" stroke="#202020" stroke-width="0.45"/>
<rect x="666.11" y="228.45" width="7.27" height="26" fill="#6b3611" stroke="#202020" stroke-width="0.45"/>
<rect x="483.1" y="149.15" width="199.6" height="105.3" fill="none" stroke="#2a2a2a" stroke-width="0.75"/>
<line x1="480.2" y1="254.45" x2="483.1" y2="254.45" stroke="#2a2a2a" stroke-width="0.7"/>
<text x="478.2" y="257.05" font-size="6.4" text-anchor="end" fill="#111">0</text>
<line x1="480.2" y1="238.15" x2="483.1" y2="238.15" stroke="#2a2a2a" stroke-width="0.7"/>
<text x="478.2" y="240.75" font-size="6.4" text-anchor="end" fill="#111">500</text>
<line x1="480.2" y1="221.85" x2="483.1" y2="221.85" stroke="#2a2a2a" stroke-width="0.7"/>
<text x="478.2" y="224.45" font-size="6.4" text-anchor="end" fill="#111">1000</text>
<line x1="480.2" y1="205.55" x2="483.1" y2="205.55" stroke="#2a2a2a" stroke-width="0.7"/>
<text x="478.2" y="208.15" font-size="6.4" text-anchor="end" fill="#111">1500</text>
<line x1="480.2" y1="189.25" x2="483.1" y2="189.25" stroke="#2a2a2a" stroke-width="0.7"/>
<text x="478.2" y="191.85" font-size="6.4" text-anchor="end" fill="#111">2000</text>
<line x1="480.2" y1="172.95" x2="483.1" y2="172.95" stroke="#2a2a2a" stroke-width="0.7"/>
<text x="478.2" y="175.55" font-size="6.4" text-anchor="end" fill="#111">2500</text>
<line x1="480.2" y1="156.65" x2="483.1" y2="156.65" stroke="#2a2a2a" stroke-width="0.7"/>
<text x="478.2" y="159.25" font-size="6.4" text-anchor="end" fill="#111">3000</text>
<line x1="496" y1="254.45" x2="496" y2="257.25" stroke="#2a2a2a" stroke-width="0.7"/>
<text x="496" y="263.65" font-size="6" text-anchor="middle" fill="#111">2004</text>
<line x1="516.45" y1="254.45" x2="516.45" y2="257.25" stroke="#2a2a2a" stroke-width="0.7"/>
<text x="516.45" y="263.65" font-size="6" text-anchor="middle" fill="#111">2006</text>
<line x1="536.88" y1="254.45" x2="536.88" y2="257.25" stroke="#2a2a2a" stroke-width="0.7"/>
<text x="536.88" y="263.65" font-size="6" text-anchor="middle" fill="#111">2008</text>
<line x1="557.33" y1="254.45" x2="557.33" y2="257.25" stroke="#2a2a2a" stroke-width="0.7"/>
<text x="557.33" y="263.65" font-size="6" text-anchor="middle" fill="#111">2010</text>
<line x1="577.76" y1="254.45" x2="577.76" y2="257.25" stroke="#2a2a2a" stroke-width="0.7"/>
<text x="577.76" y="263.65" font-size="6" text-anchor="middle" fill="#111">2012</text>
<line x1="598.21" y1="254.45" x2="598.21" y2="257.25" stroke="#2a2a2a" stroke-width="0.7"/>
<text x="598.21" y="263.65" font-size="6" text-anchor="middle" fill="#111">2014</text>
<line x1="618.64" y1="254.45" x2="618.64" y2="257.25" stroke="#2a2a2a" stroke-width="0.7"/>
<text x="618.64" y="263.65" font-size="6" text-anchor="middle" fill="#111">2016</text>
<line x1="639.09" y1="254.45" x2="639.09" y2="257.25" stroke="#2a2a2a" stroke-width="0.7"/>
<text x="639.09" y="263.65" font-size="6" text-anchor="middle" fill="#111">2018</text>
<line x1="659.52" y1="254.45" x2="659.52" y2="257.25" stroke="#2a2a2a" stroke-width="0.7"/>
<text x="659.52" y="263.65" font-size="6" text-anchor="middle" fill="#111">2020</text>
<rect x="485.4" y="151.75" width="24.33" height="8.5" rx="1.3" fill="#fff" stroke="#2a2a2a" stroke-width="0.5"/>
<rect x="487.9" y="154.2" width="9.8" height="3.4" fill="#6b3611" stroke="#202020" stroke-width="0.4"/>
<text x="501.6" y="157.65" font-size="4.8" fill="#111">JZ</text>
</g>
<g>
<text x="2.6" y="282.7" font-size="9" fill="#111">d.</text>
<line x1="26.4" y1="362.05" x2="226" y2="362.05" stroke="#dcdcdc" stroke-width="0.45" stroke-dasharray="0.5 0.8"/>
<line x1="26.4" y1="333.1" x2="226" y2="333.1" stroke="#dcdcdc" stroke-width="0.45" stroke-dasharray="0.5 0.8"/>
<line x1="26.4" y1="304.15" x2="226" y2="304.15" stroke="#dcdcdc" stroke-width="0.45" stroke-dasharray="0.5 0.8"/>
<rect x="35.67" y="321.4" width="7.27" height="69.6" fill="#274a66" stroke="#202020" stroke-width="0.45"/>
<rect x="45.89" y="323.5" width="7.27" height="67.5" fill="#274a66" stroke="#202020" stroke-width="0.45"/>
<rect x="56.11" y="320.5" width="7.27" height="70.5" fill="#274a66" stroke="#202020" stroke-width="0.45"/>
<rect x="66.33" y="318.7" width="7.27" height="72.3" fill="#274a66" stroke="#202020" stroke-width="0.45"/>
<rect x="76.55" y="319.6" width="7.27" height="71.4" fill="#274a66" stroke="#202020" stroke-width="0.45"/>
<rect x="86.77" y="304.6" width="7.27" height="86.4" fill="#274a66" stroke="#202020" stroke-width="0.45"/>
<rect x="96.99" y="295.7" width="7.27" height="95.3" fill="#274a66" stroke="#202020" stroke-width="0.45"/>
<rect x="107.21" y="297.7" width="7.27" height="93.3" fill="#274a66" stroke="#202020" stroke-width="0.45"/>
<rect x="117.43" y="299" width="7.27" height="92" fill="#274a66" stroke="#202020" stroke-width="0.45"/>
<rect x="127.65" y="309.7" width="7.27" height="81.3" fill="#274a66" stroke="#202020" stroke-width="0.45"/>
<rect x="137.87" y="313" width="7.27" height="78" fill="#274a66" stroke="#202020" stroke-width="0.45"/>
<rect x="148.09" y="314.5" width="7.27" height="76.5" fill="#274a66" stroke="#202020" stroke-width="0.45"/>
<rect x="158.31" y="323.7" width="7.27" height="67.3" fill="#274a66" stroke="#202020" stroke-width="0.45"/>
<rect x="168.53" y="324.3" width="7.27" height="66.7" fill="#274a66" stroke="#202020" stroke-width="0.45"/>
<rect x="178.75" y="330.6" width="7.27" height="60.4" fill="#274a66" stroke="#202020" stroke-width="0.45"/>
<rect x="188.97" y="332" width="7.27" height="59" fill="#274a66" stroke="#202020" stroke-width="0.45"/>
<rect x="199.19" y="336.5" width="7.27" height="54.5" fill="#274a66" stroke="#202020" stroke-width="0.45"/>
<rect x="209.41" y="335.3" width="7.27" height="55.7" fill="#274a66" stroke="#202020" stroke-width="0.45"/>
<rect x="26.4" y="285.7" width="199.6" height="105.3" fill="none" stroke="#2a2a2a" stroke-width="0.75"/>
<line x1="23.5" y1="391" x2="26.4" y2="391" stroke="#2a2a2a" stroke-width="0.7"/>
<text x="21.5" y="393.6" font-size="6.4" text-anchor="end" fill="#111">0</text>
<line x1="23.5" y1="362.05" x2="26.4" y2="362.05" stroke="#2a2a2a" stroke-width="0.7"/>
<text x="21.5" y="364.65" font-size="6.4" text-anchor="end" fill="#111">500</text>
<line x1="23.5" y1="333.1" x2="26.4" y2="333.1" stroke="#2a2a2a" stroke-width="0.7"/>
<text x="21.5" y="335.7" font-size="6.4" text-anchor="end" fill="#111">1000</text>
<line x1="23.5" y1="304.15" x2="26.4" y2="304.15" stroke="#2a2a2a" stroke-width="0.7"/>
<text x="21.5" y="306.75" font-size="6.4" text-anchor="end" fill="#111">1500</text>
<line x1="39.3" y1="391" x2="39.3" y2="393.8" stroke="#2a2a2a" stroke-width="0.7"/>
<text x="39.3" y="400.2" font-size="6" text-anchor="middle" fill="#111">2004</text>
<line x1="59.75" y1="391" x2="59.75" y2="393.8" stroke="#2a2a2a" stroke-width="0.7"/>
<text x="59.75" y="400.2" font-size="6" text-anchor="middle" fill="#111">2006</text>
<line x1="80.19" y1="391" x2="80.19" y2="393.8" stroke="#2a2a2a" stroke-width="0.7"/>
<text x="80.19" y="400.2" font-size="6" text-anchor="middle" fill="#111">2008</text>
<line x1="100.62" y1="391" x2="100.62" y2="393.8" stroke="#2a2a2a" stroke-width="0.7"/>
<text x="100.62" y="400.2" font-size="6" text-anchor="middle" fill="#111">2010</text>
<line x1="121.06" y1="391" x2="121.06" y2="393.8" stroke="#2a2a2a" stroke-width="0.7"/>
<text x="121.06" y="400.2" font-size="6" text-anchor="middle" fill="#111">2012</text>
<line x1="141.5" y1="391" x2="141.5" y2="393.8" stroke="#2a2a2a" stroke-width="0.7"/>
<text x="141.5" y="400.2" font-size="6" text-anchor="middle" fill="#111">2014</text>
<line x1="161.95" y1="391" x2="161.95" y2="393.8" stroke="#2a2a2a" stroke-width="0.7"/>
<text x="161.95" y="400.2" font-size="6" text-anchor="middle" fill="#111">2016</text>
<line x1="182.39" y1="391" x2="182.39" y2="393.8" stroke="#2a2a2a" stroke-width="0.7"/>
<text x="182.39" y="400.2" font-size="6" text-anchor="middle" fill="#111">2018</text>
<line x1="202.83" y1="391" x2="202.83" y2="393.8" stroke="#2a2a2a" stroke-width="0.7"/>
<text x="202.83" y="400.2" font-size="6" text-anchor="middle" fill="#111">2020</text>
<rect x="28.7" y="288.3" width="24.87" height="8.5" rx="1.3" fill="#fff" stroke="#2a2a2a" stroke-width="0.5"/>
<rect x="31.2" y="290.75" width="9.8" height="3.4" fill="#274a66" stroke="#202020" stroke-width="0.4"/>
<text x="44.9" y="294.2" font-size="4.8" fill="#111">LX</text>
</g>
<g>
<text x="230.95" y="282.7" font-size="9" fill="#111">e.</text>
<line x1="254.75" y1="363.6" x2="454.35" y2="363.6" stroke="#dcdcdc" stroke-width="0.45" stroke-dasharray="0.5 0.8"/>
<line x1="254.75" y1="336.2" x2="454.35" y2="336.2" stroke="#dcdcdc" stroke-width="0.45" stroke-dasharray="0.5 0.8"/>
<line x1="254.75" y1="308.8" x2="454.35" y2="308.8" stroke="#dcdcdc" stroke-width="0.45" stroke-dasharray="0.5 0.8"/>
<rect x="264.02" y="345.5" width="7.27" height="45.5" fill="#6aa5d1" stroke="#202020" stroke-width="0.45"/>
<rect x="274.24" y="342.9" width="7.27" height="48.1" fill="#6aa5d1" stroke="#202020" stroke-width="0.45"/>
<rect x="284.46" y="341.7" width="7.27" height="49.3" fill="#6aa5d1" stroke="#202020" stroke-width="0.45"/>
<rect x="294.68" y="335.6" width="7.27" height="55.4" fill="#6aa5d1" stroke="#202020" stroke-width="0.45"/>
<rect x="304.9" y="334.7" width="7.27" height="56.3" fill="#6aa5d1" stroke="#202020" stroke-width="0.45"/>
<rect x="315.12" y="332.1" width="7.27" height="58.9" fill="#6aa5d1" stroke="#202020" stroke-width="0.45"/>
<rect x="325.34" y="316.2" width="7.27" height="74.8" fill="#6aa5d1" stroke="#202020" stroke-width="0.45"/>
<rect x="335.56" y="302.6" width="7.27" height="88.4" fill="#6aa5d1" stroke="#202020" stroke-width="0.45"/>
<rect x="345.78" y="295.9" width="7.27" height="95.1" fill="#6aa5d1" stroke="#202020" stroke-width="0.45"/>
<rect x="356" y="296.8" width="7.27" height="94.2" fill="#6aa5d1" stroke="#202020" stroke-width="0.45"/>
<rect x="366.22" y="301" width="7.27" height="90" fill="#6aa5d1" stroke="#202020" stroke-width="0.45"/>
<rect x="376.44" y="301.9" width="7.27" height="89.1" fill="#6aa5d1" stroke="#202020" stroke-width="0.45"/>
<rect x="386.66" y="318.9" width="7.27" height="72.1" fill="#6aa5d1" stroke="#202020" stroke-width="0.45"/>
<rect x="396.88" y="314.1" width="7.27" height="76.9" fill="#6aa5d1" stroke="#202020" stroke-width="0.45"/>
<rect x="407.1" y="313.3" width="7.27" height="77.7" fill="#6aa5d1" stroke="#202020" stroke-width="0.45"/>
<rect x="417.32" y="302.6" width="7.27" height="88.4" fill="#6aa5d1" stroke="#202020" stroke-width="0.45"/>
<rect x="427.54" y="296" width="7.27" height="95" fill="#6aa5d1" stroke="#202020" stroke-width="0.45"/>
<rect x="437.76" y="298.9" width="7.27" height="92.1" fill="#6aa5d1" stroke="#202020" stroke-width="0.45"/>
<rect x="254.75" y="285.7" width="199.6" height="105.3" fill="none" stroke="#2a2a2a" stroke-width="0.75"/>
<line x1="251.85" y1="391" x2="254.75" y2="391" stroke="#2a2a2a" stroke-width="0.7"/>
<text x="249.85" y="393.6" font-size="6.4" text-anchor="end" fill="#111">0</text>
<line x1="251.85" y1="363.6" x2="254.75" y2="363.6" stroke="#2a2a2a" stroke-width="0.7"/>
<text x="249.85" y="366.2" font-size="6.4" text-anchor="end" fill="#111">2000</text>
<line x1="251.85" y1="336.2" x2="254.75" y2="336.2" stroke="#2a2a2a" stroke-width="0.7"/>
<text x="249.85" y="338.8" font-size="6.4" text-anchor="end" fill="#111">4000</text>
<line x1="251.85" y1="308.8" x2="254.75" y2="308.8" stroke="#2a2a2a" stroke-width="0.7"/>
<text x="249.85" y="311.4" font-size="6.4" text-anchor="end" fill="#111">6000</text>
<line x1="267.65" y1="391" x2="267.65" y2="393.8" stroke="#2a2a2a" stroke-width="0.7"/>
<text x="267.65" y="400.2" font-size="6" text-anchor="middle" fill="#111">2004</text>
<line x1="288.09" y1="391" x2="288.09" y2="393.8" stroke="#2a2a2a" stroke-width="0.7"/>
<text x="288.09" y="400.2" font-size="6" text-anchor="middle" fill="#111">2006</text>
<line x1="308.53" y1="391" x2="308.53" y2="393.8" stroke="#2a2a2a" stroke-width="0.7"/>
<text x="308.53" y="400.2" font-size="6" text-anchor="middle" fill="#111">2008</text>
<line x1="328.97" y1="391" x2="328.97" y2="393.8" stroke="#2a2a2a" stroke-width="0.7"/>
<text x="328.97" y="400.2" font-size="6" text-anchor="middle" fill="#111">2010</text>
<line x1="349.41" y1="391" x2="349.41" y2="393.8" stroke="#2a2a2a" stroke-width="0.7"/>
<text x="349.41" y="400.2" font-size="6" text-anchor="middle" fill="#111">2012</text>
<line x1="369.85" y1="391" x2="369.85" y2="393.8" stroke="#2a2a2a" stroke-width="0.7"/>
<text x="369.85" y="400.2" font-size="6" text-anchor="middle" fill="#111">2014</text>
<line x1="390.29" y1="391" x2="390.29" y2="393.8" stroke="#2a2a2a" stroke-width="0.7"/>
<text x="390.29" y="400.2" font-size="6" text-anchor="middle" fill="#111">2016</text>
<line x1="410.74" y1="391" x2="410.74" y2="393.8" stroke="#2a2a2a" stroke-width="0.7"/>
<text x="410.74" y="400.2" font-size="6" text-anchor="middle" fill="#111">2018</text>
<line x1="431.17" y1="391" x2="431.17" y2="393.8" stroke="#2a2a2a" stroke-width="0.7"/>
<text x="431.17" y="400.2" font-size="6" text-anchor="middle" fill="#111">2020</text>
<rect x="257.05" y="288.3" width="24.6" height="8.5" rx="1.3" fill="#fff" stroke="#2a2a2a" stroke-width="0.5"/>
<rect x="259.55" y="290.75" width="9.8" height="3.4" fill="#6aa5d1" stroke="#202020" stroke-width="0.4"/>
<text x="273.25" y="294.2" font-size="4.8" fill="#111">JB</text>
</g>
<g>
<text x="459.3" y="282.7" font-size="9" fill="#111">f.</text>
<line x1="483.1" y1="363.93" x2="682.7" y2="363.93" stroke="#dcdcdc" stroke-width="0.45" stroke-dasharray="0.5 0.8"/>
<line x1="483.1" y1="336.86" x2="682.7" y2="336.86" stroke="#dcdcdc" stroke-width="0.45" stroke-dasharray="0.5 0.8"/>
<line x1="483.1" y1="309.79" x2="682.7" y2="309.79" stroke="#dcdcdc" stroke-width="0.45" stroke-dasharray="0.5 0.8"/>
<rect x="492.37" y="352.7" width="7.27" height="38.3" fill="#1c2290" stroke="#202020" stroke-width="0.45"/>
<rect x="502.59" y="342.6" width="7.27" height="48.4" fill="#1c2290" stroke="#202020" stroke-width="0.45"/>
<rect x="512.81" y="335.6" width="7.27" height="55.4" fill="#1c2290" stroke="#202020" stroke-width="0.45"/>
<rect x="523.03" y="330.4" width="7.27" height="60.6" fill="#1c2290" stroke="#202020" stroke-width="0.45"/>
<rect x="533.25" y="330.9" width="7.27" height="60.1" fill="#1c2290" stroke="#202020" stroke-width="0.45"/>
<rect x="543.47" y="339" width="7.27" height="52" fill="#1c2290" stroke="#202020" stroke-width="0.45"/>
<rect x="553.69" y="318" width="7.27" height="73" fill="#1c2290" stroke="#202020" stroke-width="0.45"/>
<rect x="563.91" y="310.4" width="7.27" height="80.6" fill="#1c2290" stroke="#202020" stroke-width="0.45"/>
<rect x="574.13" y="308.2" width="7.27" height="82.8" fill="#1c2290" stroke="#202020" stroke-width="0.45"/>
<rect x="584.35" y="304.6" width="7.27" height="86.4" fill="#1c2290" stroke="#202020" stroke-width="0.45"/>
<rect x="594.57" y="305.5" width="7.27" height="85.5" fill="#1c2290" stroke="#202020" stroke-width="0.45"/>
<rect x="604.79" y="303.8" width="7.27" height="87.2" fill="#1c2290" stroke="#202020" stroke-width="0.45"/>
<rect x="615.01" y="315.3" width="7.27" height="75.7" fill="#1c2290" stroke="#202020" stroke-width="0.45"/>
<rect x="625.23" y="312" width="7.27" height="79" fill="#1c2290" stroke="#202020" stroke-width="0.45"/>
<rect x="635.45" y="307" width="7.27" height="84" fill="#1c2290" stroke="#202020" stroke-width="0.45"/>
<rect x="645.67" y="306.2" width="7.27" height="84.8" fill="#1c2290" stroke="#202020" stroke-width="0.45"/>
<rect x="655.89" y="295.7" width="7.27" height="95.3" fill="#1c2290" stroke="#202020" stroke-width="0.45"/>
<rect x="666.11" y="298.3" width="7.27" height="92.7" fill="#1c2290" stroke="#202020" stroke-width="0.45"/>
<rect x="483.1" y="285.7" width="199.6" height="105.3" fill="none" stroke="#2a2a2a" stroke-width="0.75"/>
<line x1="480.2" y1="391" x2="483.1" y2="391" stroke="#2a2a2a" stroke-width="0.7"/>
<text x="478.2" y="393.6" font-size="6.4" text-anchor="end" fill="#111">0</text>
<line x1="480.2" y1="363.93" x2="483.1" y2="363.93" stroke="#2a2a2a" stroke-width="0.7"/>
<text x="478.2" y="366.53" font-size="6.4" text-anchor="end" fill="#111">2000</text>
<line x1="480.2" y1="336.86" x2="483.1" y2="336.86" stroke="#2a2a2a" stroke-width="0.7"/>
<text x="478.2" y="339.46" font-size="6.4" text-anchor="end" fill="#111">4000</text>
<line x1="480.2" y1="309.79" x2="483.1" y2="309.79" stroke="#2a2a2a" stroke-width="0.7"/>
<text x="478.2" y="312.39" font-size="6.4" text-anchor="end" fill="#111">6000</text>
<line x1="496" y1="391" x2="496" y2="393.8" stroke="#2a2a2a" stroke-width="0.7"/>
<text x="496" y="400.2" font-size="6" text-anchor="middle" fill="#111">2004</text>
<line x1="516.45" y1="391" x2="516.45" y2="393.8" stroke="#2a2a2a" stroke-width="0.7"/>
<text x="516.45" y="400.2" font-size="6" text-anchor="middle" fill="#111">2006</text>
<line x1="536.88" y1="391" x2="536.88" y2="393.8" stroke="#2a2a2a" stroke-width="0.7"/>
<text x="536.88" y="400.2" font-size="6" text-anchor="middle" fill="#111">2008</text>
<line x1="557.33" y1="391" x2="557.33" y2="393.8" stroke="#2a2a2a" stroke-width="0.7"/>
<text x="557.33" y="400.2" font-size="6" text-anchor="middle" fill="#111">2010</text>
<line x1="577.76" y1="391" x2="577.76" y2="393.8" stroke="#2a2a2a" stroke-width="0.7"/>
<text x="577.76" y="400.2" font-size="6" text-anchor="middle" fill="#111">2012</text>
<line x1="598.21" y1="391" x2="598.21" y2="393.8" stroke="#2a2a2a" stroke-width="0.7"/>
<text x="598.21" y="400.2" font-size="6" text-anchor="middle" fill="#111">2014</text>
<line x1="618.64" y1="391" x2="618.64" y2="393.8" stroke="#2a2a2a" stroke-width="0.7"/>
<text x="618.64" y="400.2" font-size="6" text-anchor="middle" fill="#111">2016</text>
<line x1="639.09" y1="391" x2="639.09" y2="393.8" stroke="#2a2a2a" stroke-width="0.7"/>
<text x="639.09" y="400.2" font-size="6" text-anchor="middle" fill="#111">2018</text>
<line x1="659.52" y1="391" x2="659.52" y2="393.8" stroke="#2a2a2a" stroke-width="0.7"/>
<text x="659.52" y="400.2" font-size="6" text-anchor="middle" fill="#111">2020</text>
<rect x="485.4" y="288.3" width="28.07" height="8.5" rx="1.3" fill="#fff" stroke="#2a2a2a" stroke-width="0.5"/>
<rect x="487.9" y="290.75" width="9.8" height="3.4" fill="#1c2290" stroke="#202020" stroke-width="0.4"/>
<text x="501.6" y="294.2" font-size="4.8" fill="#111">JinZ</text>
</g>
<g>
<text x="2.6" y="419.55" font-size="9" fill="#111">g.</text>
<line x1="26.4" y1="512.23" x2="226" y2="512.23" stroke="#dcdcdc" stroke-width="0.45" stroke-dasharray="0.5 0.8"/>
<line x1="26.4" y1="496.61" x2="226" y2="496.61" stroke="#dcdcdc" stroke-width="0.45" stroke-dasharray="0.5 0.8"/>
<line x1="26.4" y1="480.99" x2="226" y2="480.99" stroke="#dcdcdc" stroke-width="0.45" stroke-dasharray="0.5 0.8"/>
<line x1="26.4" y1="465.37" x2="226" y2="465.37" stroke="#dcdcdc" stroke-width="0.45" stroke-dasharray="0.5 0.8"/>
<line x1="26.4" y1="449.75" x2="226" y2="449.75" stroke="#dcdcdc" stroke-width="0.45" stroke-dasharray="0.5 0.8"/>
<line x1="26.4" y1="434.13" x2="226" y2="434.13" stroke="#dcdcdc" stroke-width="0.45" stroke-dasharray="0.5 0.8"/>
<rect x="35.67" y="467.75" width="7.27" height="60.1" fill="#cde3f0" stroke="#202020" stroke-width="0.45"/>
<rect x="45.89" y="461.95" width="7.27" height="65.9" fill="#cde3f0" stroke="#202020" stroke-width="0.45"/>
<rect x="56.11" y="462.95" width="7.27" height="64.9" fill="#cde3f0" stroke="#202020" stroke-width="0.45"/>
<rect x="66.33" y="459.95" width="7.27" height="67.9" fill="#cde3f0" stroke="#202020" stroke-width="0.45"/>
<rect x="76.55" y="447.85" width="7.27" height="80" fill="#cde3f0" stroke="#202020" stroke-width="0.45"/>
<rect x="86.77" y="453.45" width="7.27" height="74.4" fill="#cde3f0" stroke="#202020" stroke-width="0.45"/>
<rect x="96.99" y="451.35" width="7.27" height="76.5" fill="#cde3f0" stroke="#202020" stroke-width="0.45"/>
<rect x="107.21" y="442.15" width="7.27" height="85.7" fill="#cde3f0" stroke="#202020" stroke-width="0.45"/>
<rect x="117.43" y="441.75" width="7.27" height="86.1" fill="#cde3f0" stroke="#202020" stroke-width="0.45"/>
<rect x="127.65" y="441.55" width="7.27" height="86.3" fill="#cde3f0" stroke="#202020" stroke-width="0.45"/>
<rect x="137.87" y="443.25" width="7.27" height="84.6" fill="#cde3f0" stroke="#202020" stroke-width="0.45"/>
<rect x="148.09" y="441.85" width="7.27" height="86" fill="#cde3f0" stroke="#202020" stroke-width="0.45"/>
<rect x="158.31" y="450.05" width="7.27" height="77.8" fill="#cde3f0" stroke="#202020" stroke-width="0.45"/>
<rect x="168.53" y="448.85" width="7.27" height="79" fill="#cde3f0" stroke="#202020" stroke-width="0.45"/>
<rect x="178.75" y="448.85" width="7.27" height="79" fill="#cde3f0" stroke="#202020" stroke-width="0.45"/>
<rect x="188.97" y="443.85" width="7.27" height="84" fill="#cde3f0" stroke="#202020" stroke-width="0.45"/>
<rect x="199.19" y="439.15" width="7.27" height="88.7" fill="#cde3f0" stroke="#202020" stroke-width="0.45"/>
<rect x="209.41" y="432.85" width="7.27" height="95" fill="#cde3f0" stroke="#202020" stroke-width="0.45"/>
<rect x="26.4" y="422.55" width="199.6" height="105.3" fill="none" stroke="#2a2a2a" stroke-width="0.75"/>
<line x1="23.5" y1="527.85" x2="26.4" y2="527.85" stroke="#2a2a2a" stroke-width="0.7"/>
<text x="21.5" y="530.45" font-size="6.4" text-anchor="end" fill="#111">0</text>
<line x1="23.5" y1="512.23" x2="26.4" y2="512.23" stroke="#2a2a2a" stroke-width="0.7"/>
<text x="21.5" y="514.83" font-size="6.4" text-anchor="end" fill="#111">1000</text>
<line x1="23.5" y1="496.61" x2="26.4" y2="496.61" stroke="#2a2a2a" stroke-width="0.7"/>
<text x="21.5" y="499.21" font-size="6.4" text-anchor="end" fill="#111">2000</text>
<line x1="23.5" y1="480.99" x2="26.4" y2="480.99" stroke="#2a2a2a" stroke-width="0.7"/>
<text x="21.5" y="483.59" font-size="6.4" text-anchor="end" fill="#111">3000</text>
<line x1="23.5" y1="465.37" x2="26.4" y2="465.37" stroke="#2a2a2a" stroke-width="0.7"/>
<text x="21.5" y="467.97" font-size="6.4" text-anchor="end" fill="#111">4000</text>
<line x1="23.5" y1="449.75" x2="26.4" y2="449.75" stroke="#2a2a2a" stroke-width="0.7"/>
<text x="21.5" y="452.35" font-size="6.4" text-anchor="end" fill="#111">5000</text>
<line x1="23.5" y1="434.13" x2="26.4" y2="434.13" stroke="#2a2a2a" stroke-width="0.7"/>
<text x="21.5" y="436.73" font-size="6.4" text-anchor="end" fill="#111">6000</text>
<line x1="39.3" y1="527.85" x2="39.3" y2="530.65" stroke="#2a2a2a" stroke-width="0.7"/>
<text x="39.3" y="537.05" font-size="6" text-anchor="middle" fill="#111">2004</text>
<line x1="59.75" y1="527.85" x2="59.75" y2="530.65" stroke="#2a2a2a" stroke-width="0.7"/>
<text x="59.75" y="537.05" font-size="6" text-anchor="middle" fill="#111">2006</text>
<line x1="80.19" y1="527.85" x2="80.19" y2="530.65" stroke="#2a2a2a" stroke-width="0.7"/>
<text x="80.19" y="537.05" font-size="6" text-anchor="middle" fill="#111">2008</text>
<line x1="100.62" y1="527.85" x2="100.62" y2="530.65" stroke="#2a2a2a" stroke-width="0.7"/>
<text x="100.62" y="537.05" font-size="6" text-anchor="middle" fill="#111">2010</text>
<line x1="121.06" y1="527.85" x2="121.06" y2="530.65" stroke="#2a2a2a" stroke-width="0.7"/>
<text x="121.06" y="537.05" font-size="6" text-anchor="middle" fill="#111">2012</text>
<line x1="141.5" y1="527.85" x2="141.5" y2="530.65" stroke="#2a2a2a" stroke-width="0.7"/>
<text x="141.5" y="537.05" font-size="6" text-anchor="middle" fill="#111">2014</text>
<line x1="161.95" y1="527.85" x2="161.95" y2="530.65" stroke="#2a2a2a" stroke-width="0.7"/>
<text x="161.95" y="537.05" font-size="6" text-anchor="middle" fill="#111">2016</text>
<line x1="182.39" y1="527.85" x2="182.39" y2="530.65" stroke="#2a2a2a" stroke-width="0.7"/>
<text x="182.39" y="537.05" font-size="6" text-anchor="middle" fill="#111">2018</text>
<line x1="202.83" y1="527.85" x2="202.83" y2="530.65" stroke="#2a2a2a" stroke-width="0.7"/>
<text x="202.83" y="537.05" font-size="6" text-anchor="middle" fill="#111">2020</text>
<rect x="28.7" y="425.15" width="24.87" height="8.5" rx="1.3" fill="#fff" stroke="#2a2a2a" stroke-width="0.5"/>
<rect x="31.2" y="427.6" width="9.8" height="3.4" fill="#cde3f0" stroke="#202020" stroke-width="0.4"/>
<text x="44.9" y="431.05" font-size="4.8" fill="#111">JD</text>
</g>
<g>
<text x="230.95" y="419.55" font-size="9" fill="#111">h.</text>
<line x1="254.75" y1="511.82" x2="454.35" y2="511.82" stroke="#dcdcdc" stroke-width="0.45" stroke-dasharray="0.5 0.8"/>
<line x1="254.75" y1="495.79" x2="454.35" y2="495.79" stroke="#dcdcdc" stroke-width="0.45" stroke-dasharray="0.5 0.8"/>
<line x1="254.75" y1="479.76" x2="454.35" y2="479.76" stroke="#dcdcdc" stroke-width="0.45" stroke-dasharray="0.5 0.8"/>
<line x1="254.75" y1="463.73" x2="454.35" y2="463.73" stroke="#dcdcdc" stroke-width="0.45" stroke-dasharray="0.5 0.8"/>
<line x1="254.75" y1="447.7" x2="454.35" y2="447.7" stroke="#dcdcdc" stroke-width="0.45" stroke-dasharray="0.5 0.8"/>
<line x1="254.75" y1="431.67" x2="454.35" y2="431.67" stroke="#dcdcdc" stroke-width="0.45" stroke-dasharray="0.5 0.8"/>
<rect x="264.02" y="480.85" width="7.27" height="47" fill="#f3dfce" stroke="#202020" stroke-width="0.45"/>
<rect x="274.24" y="476.75" width="7.27" height="51.1" fill="#f3dfce" stroke="#202020" stroke-width="0.45"/>
<rect x="284.46" y="474.85" width="7.27" height="53" fill="#f3dfce" stroke="#202020" stroke-width="0.45"/>
<rect x="294.68" y="472.85" width="7.27" height="55" fill="#f3dfce" stroke="#202020" stroke-width="0.45"/>
<rect x="304.9" y="458.85" width="7.27" height="69" fill="#f3dfce" stroke="#202020" stroke-width="0.45"/>
<rect x="315.12" y="455.85" width="7.27" height="72" fill="#f3dfce" stroke="#202020" stroke-width="0.45"/>
<rect x="325.34" y="445.45" width="7.27" height="82.4" fill="#f3dfce" stroke="#202020" stroke-width="0.45"/>
<rect x="335.56" y="437.85" width="7.27" height="90" fill="#f3dfce" stroke="#202020" stroke-width="0.45"/>
<rect x="345.78" y="432.75" width="7.27" height="95.1" fill="#f3dfce" stroke="#202020" stroke-width="0.45"/>
<rect x="356" y="442.05" width="7.27" height="85.8" fill="#f3dfce" stroke="#202020" stroke-width="0.45"/>
<rect x="366.22" y="450.75" width="7.27" height="77.1" fill="#f3dfce" stroke="#202020" stroke-width="0.45"/>
<rect x="376.44" y="444.75" width="7.27" height="83.1" fill="#f3dfce" stroke="#202020" stroke-width="0.45"/>
<rect x="386.66" y="453.75" width="7.27" height="74.1" fill="#f3dfce" stroke="#202020" stroke-width="0.45"/>
<rect x="396.88" y="456.95" width="7.27" height="70.9" fill="#f3dfce" stroke="#202020" stroke-width="0.45"/>
<rect x="407.1" y="466.85" width="7.27" height="61" fill="#f3dfce" stroke="#202020" stroke-width="0.45"/>
<rect x="417.32" y="475.85" width="7.27" height="52" fill="#f3dfce" stroke="#202020" stroke-width="0.45"/>
<rect x="427.54" y="475.45" width="7.27" height="52.4" fill="#f3dfce" stroke="#202020" stroke-width="0.45"/>
<rect x="437.76" y="476.75" width="7.27" height="51.1" fill="#f3dfce" stroke="#202020" stroke-width="0.45"/>
<rect x="254.75" y="422.55" width="199.6" height="105.3" fill="none" stroke="#2a2a2a" stroke-width="0.75"/>
<line x1="251.85" y1="527.85" x2="254.75" y2="527.85" stroke="#2a2a2a" stroke-width="0.7"/>
<text x="249.85" y="530.45" font-size="6.4" text-anchor="end" fill="#111">0</text>
<line x1="251.85" y1="511.82" x2="254.75" y2="511.82" stroke="#2a2a2a" stroke-width="0.7"/>
<text x="249.85" y="514.42" font-size="6.4" text-anchor="end" fill="#111">500</text>
<line x1="251.85" y1="495.79" x2="254.75" y2="495.79" stroke="#2a2a2a" stroke-width="0.7"/>
<text x="249.85" y="498.39" font-size="6.4" text-anchor="end" fill="#111">1000</text>
<line x1="251.85" y1="479.76" x2="254.75" y2="479.76" stroke="#2a2a2a" stroke-width="0.7"/>
<text x="249.85" y="482.36" font-size="6.4" text-anchor="end" fill="#111">1500</text>
<line x1="251.85" y1="463.73" x2="254.75" y2="463.73" stroke="#2a2a2a" stroke-width="0.7"/>
<text x="249.85" y="466.33" font-size="6.4" text-anchor="end" fill="#111">2000</text>
<line x1="251.85" y1="447.7" x2="254.75" y2="447.7" stroke="#2a2a2a" stroke-width="0.7"/>
<text x="249.85" y="450.3" font-size="6.4" text-anchor="end" fill="#111">2500</text>
<line x1="251.85" y1="431.67" x2="254.75" y2="431.67" stroke="#2a2a2a" stroke-width="0.7"/>
<text x="249.85" y="434.27" font-size="6.4" text-anchor="end" fill="#111">3000</text>
<line x1="267.65" y1="527.85" x2="267.65" y2="530.65" stroke="#2a2a2a" stroke-width="0.7"/>
<text x="267.65" y="537.05" font-size="6" text-anchor="middle" fill="#111">2004</text>
<line x1="288.09" y1="527.85" x2="288.09" y2="530.65" stroke="#2a2a2a" stroke-width="0.7"/>
<text x="288.09" y="537.05" font-size="6" text-anchor="middle" fill="#111">2006</text>
<line x1="308.53" y1="527.85" x2="308.53" y2="530.65" stroke="#2a2a2a" stroke-width="0.7"/>
<text x="308.53" y="537.05" font-size="6" text-anchor="middle" fill="#111">2008</text>
<line x1="328.97" y1="527.85" x2="328.97" y2="530.65" stroke="#2a2a2a" stroke-width="0.7"/>
<text x="328.97" y="537.05" font-size="6" text-anchor="middle" fill="#111">2010</text>
<line x1="349.41" y1="527.85" x2="349.41" y2="530.65" stroke="#2a2a2a" stroke-width="0.7"/>
<text x="349.41" y="537.05" font-size="6" text-anchor="middle" fill="#111">2012</text>
<line x1="369.85" y1="527.85" x2="369.85" y2="530.65" stroke="#2a2a2a" stroke-width="0.7"/>
<text x="369.85" y="537.05" font-size="6" text-anchor="middle" fill="#111">2014</text>
<line x1="390.29" y1="527.85" x2="390.29" y2="530.65" stroke="#2a2a2a" stroke-width="0.7"/>
<text x="390.29" y="537.05" font-size="6" text-anchor="middle" fill="#111">2016</text>
<line x1="410.74" y1="527.85" x2="410.74" y2="530.65" stroke="#2a2a2a" stroke-width="0.7"/>
<text x="410.74" y="537.05" font-size="6" text-anchor="middle" fill="#111">2018</text>
<line x1="431.17" y1="527.85" x2="431.17" y2="530.65" stroke="#2a2a2a" stroke-width="0.7"/>
<text x="431.17" y="537.05" font-size="6" text-anchor="middle" fill="#111">2020</text>
<rect x="257.05" y="425.15" width="25.13" height="8.5" rx="1.3" fill="#fff" stroke="#2a2a2a" stroke-width="0.5"/>
<rect x="259.55" y="427.6" width="9.8" height="3.4" fill="#f3dfce" stroke="#202020" stroke-width="0.4"/>
<text x="273.25" y="431.05" font-size="4.8" fill="#111">LH</text>
</g>
<g>
<text x="459.3" y="419.55" font-size="9" fill="#111">i.</text>
<line x1="483.1" y1="498.08" x2="682.7" y2="498.08" stroke="#dcdcdc" stroke-width="0.45" stroke-dasharray="0.5 0.8"/>
<line x1="483.1" y1="468.31" x2="682.7" y2="468.31" stroke="#dcdcdc" stroke-width="0.45" stroke-dasharray="0.5 0.8"/>
<line x1="483.1" y1="438.54" x2="682.7" y2="438.54" stroke="#dcdcdc" stroke-width="0.45" stroke-dasharray="0.5 0.8"/>
<rect x="492.37" y="466.85" width="7.27" height="61" fill="#d2d2d2" stroke="#202020" stroke-width="0.45"/>
<rect x="502.59" y="448.55" width="7.27" height="79.3" fill="#d2d2d2" stroke="#202020" stroke-width="0.45"/>
<rect x="512.81" y="450.05" width="7.27" height="77.8" fill="#d2d2d2" stroke="#202020" stroke-width="0.45"/>
<rect x="523.03" y="448.95" width="7.27" height="78.9" fill="#d2d2d2" stroke="#202020" stroke-width="0.45"/>
<rect x="533.25" y="442.05" width="7.27" height="85.8" fill="#d2d2d2" stroke="#202020" stroke-width="0.45"/>
<rect x="543.47" y="432.75" width="7.27" height="95.1" fill="#d2d2d2" stroke="#202020" stroke-width="0.45"/>
<rect x="553.69" y="440.85" width="7.27" height="87" fill="#d2d2d2" stroke="#202020" stroke-width="0.45"/>
<rect x="563.91" y="441.85" width="7.27" height="86" fill="#d2d2d2" stroke="#202020" stroke-width="0.45"/>
<rect x="574.13" y="455.85" width="7.27" height="72" fill="#d2d2d2" stroke="#202020" stroke-width="0.45"/>
<rect x="584.35" y="473.95" width="7.27" height="53.9" fill="#d2d2d2" stroke="#202020" stroke-width="0.45"/>
<rect x="594.57" y="479.95" width="7.27" height="47.9" fill="#d2d2d2" stroke="#202020" stroke-width="0.45"/>
<rect x="604.79" y="483.85" width="7.27" height="44" fill="#d2d2d2" stroke="#202020" stroke-width="0.45"/>
<rect x="615.01" y="489.85" width="7.27" height="38" fill="#d2d2d2" stroke="#202020" stroke-width="0.45"/>
<rect x="625.23" y="491.35" width="7.27" height="36.5" fill="#d2d2d2" stroke="#202020" stroke-width="0.45"/>
<rect x="635.45" y="491.85" width="7.27" height="36" fill="#d2d2d2" stroke="#202020" stroke-width="0.45"/>
<rect x="645.67" y="493.95" width="7.27" height="33.9" fill="#d2d2d2" stroke="#202020" stroke-width="0.45"/>
<rect x="655.89" y="495.85" width="7.27" height="32" fill="#d2d2d2" stroke="#202020" stroke-width="0.45"/>
<rect x="666.11" y="502.45" width="7.27" height="25.4" fill="#d2d2d2" stroke="#202020" stroke-width="0.45"/>
<rect x="483.1" y="422.55" width="199.6" height="105.3" fill="none" stroke="#2a2a2a" stroke-width="0.75"/>
<line x1="480.2" y1="527.85" x2="483.1" y2="527.85" stroke="#2a2a2a" stroke-width="0.7"/>
<text x="478.2" y="530.45" font-size="6.4" text-anchor="end" fill="#111">0</text>
<line x1="480.2" y1="498.08" x2="483.1" y2="498.08" stroke="#2a2a2a" stroke-width="0.7"/>
<text x="478.2" y="500.68" font-size="6.4" text-anchor="end" fill="#111">2000</text>
<line x1="480.2" y1="468.31" x2="483.1" y2="468.31" stroke="#2a2a2a" stroke-width="0.7"/>
<text x="478.2" y="470.91" font-size="6.4" text-anchor="end" fill="#111">4000</text>
<line x1="480.2" y1="438.54" x2="483.1" y2="438.54" stroke="#2a2a2a" stroke-width="0.7"/>
<text x="478.2" y="441.14" font-size="6.4" text-anchor="end" fill="#111">6000</text>
<line x1="496" y1="527.85" x2="496" y2="530.65" stroke="#2a2a2a" stroke-width="0.7"/>
<text x="496" y="537.05" font-size="6" text-anchor="middle" fill="#111">2004</text>
<line x1="516.45" y1="527.85" x2="516.45" y2="530.65" stroke="#2a2a2a" stroke-width="0.7"/>
<text x="516.45" y="537.05" font-size="6" text-anchor="middle" fill="#111">2006</text>
<line x1="536.88" y1="527.85" x2="536.88" y2="530.65" stroke="#2a2a2a" stroke-width="0.7"/>
<text x="536.88" y="537.05" font-size="6" text-anchor="middle" fill="#111">2008</text>
<line x1="557.33" y1="527.85" x2="557.33" y2="530.65" stroke="#2a2a2a" stroke-width="0.7"/>
<text x="557.33" y="537.05" font-size="6" text-anchor="middle" fill="#111">2010</text>
<line x1="577.76" y1="527.85" x2="577.76" y2="530.65" stroke="#2a2a2a" stroke-width="0.7"/>
<text x="577.76" y="537.05" font-size="6" text-anchor="middle" fill="#111">2012</text>
<line x1="598.21" y1="527.85" x2="598.21" y2="530.65" stroke="#2a2a2a" stroke-width="0.7"/>
<text x="598.21" y="537.05" font-size="6" text-anchor="middle" fill="#111">2014</text>
<line x1="618.64" y1="527.85" x2="618.64" y2="530.65" stroke="#2a2a2a" stroke-width="0.7"/>
<text x="618.64" y="537.05" font-size="6" text-anchor="middle" fill="#111">2016</text>
<line x1="639.09" y1="527.85" x2="639.09" y2="530.65" stroke="#2a2a2a" stroke-width="0.7"/>
<text x="639.09" y="537.05" font-size="6" text-anchor="middle" fill="#111">2018</text>
<line x1="659.52" y1="527.85" x2="659.52" y2="530.65" stroke="#2a2a2a" stroke-width="0.7"/>
<text x="659.52" y="537.05" font-size="6" text-anchor="middle" fill="#111">2020</text>
<rect x="485.4" y="425.15" width="25.93" height="8.5" rx="1.3" fill="#fff" stroke="#2a2a2a" stroke-width="0.5"/>
<rect x="487.9" y="427.6" width="9.8" height="3.4" fill="#d2d2d2" stroke="#202020" stroke-width="0.4"/>
<text x="501.6" y="431.05" font-size="4.8" fill="#111">HN</text>
</g>
<g>
<text x="2.6" y="556.5" font-size="9" fill="#111">j.</text>
<line x1="26.4" y1="646.5" x2="226" y2="646.5" stroke="#dcdcdc" stroke-width="0.45" stroke-dasharray="0.5 0.8"/>
<line x1="26.4" y1="628.2" x2="226" y2="628.2" stroke="#dcdcdc" stroke-width="0.45" stroke-dasharray="0.5 0.8"/>
<line x1="26.4" y1="609.9" x2="226" y2="609.9" stroke="#dcdcdc" stroke-width="0.45" stroke-dasharray="0.5 0.8"/>
<line x1="26.4" y1="591.6" x2="226" y2="591.6" stroke="#dcdcdc" stroke-width="0.45" stroke-dasharray="0.5 0.8"/>
<line x1="26.4" y1="573.3" x2="226" y2="573.3" stroke="#dcdcdc" stroke-width="0.45" stroke-dasharray="0.5 0.8"/>
<rect x="35.67" y="647.7" width="7.27" height="17.1" fill="#e9b266" stroke="#202020" stroke-width="0.45"/>
<rect x="45.89" y="644.4" width="7.27" height="20.4" fill="#e9b266" stroke="#202020" stroke-width="0.45"/>
<rect x="56.11" y="641.5" width="7.27" height="23.3" fill="#e9b266" stroke="#202020" stroke-width="0.45"/>
<rect x="66.33" y="638.5" width="7.27" height="26.3" fill="#e9b266" stroke="#202020" stroke-width="0.45"/>
<rect x="76.55" y="627.7" width="7.27" height="37.1" fill="#e9b266" stroke="#202020" stroke-width="0.45"/>
<rect x="86.77" y="619.6" width="7.27" height="45.2" fill="#e9b266" stroke="#202020" stroke-width="0.45"/>
<rect x="96.99" y="604.4" width="7.27" height="60.4" fill="#e9b266" stroke="#202020" stroke-width="0.45"/>
<rect x="107.21" y="586.7" width="7.27" height="78.1" fill="#e9b266" stroke="#202020" stroke-width="0.45"/>
<rect x="117.43" y="579.6" width="7.27" height="85.2" fill="#e9b266" stroke="#202020" stroke-width="0.45"/>
<rect x="127.65" y="581.5" width="7.27" height="83.3" fill="#e9b266" stroke="#202020" stroke-width="0.45"/>
<rect x="137.87" y="581.5" width="7.27" height="83.3" fill="#e9b266" stroke="#202020" stroke-width="0.45"/>
<rect x="148.09" y="584.8" width="7.27" height="80" fill="#e9b266" stroke="#202020" stroke-width="0.45"/>
<rect x="158.31" y="590.9" width="7.27" height="73.9" fill="#e9b266" stroke="#202020" stroke-width="0.45"/>
<rect x="168.53" y="586.8" width="7.27" height="78" fill="#e9b266" stroke="#202020" stroke-width="0.45"/>
<rect x="178.75" y="584.1" width="7.27" height="80.7" fill="#e9b266" stroke="#202020" stroke-width="0.45"/>
<rect x="188.97" y="569.4" width="7.27" height="95.4" fill="#e9b266" stroke="#202020" stroke-width="0.45"/>
<rect x="199.19" y="577.5" width="7.27" height="87.3" fill="#e9b266" stroke="#202020" stroke-width="0.45"/>
<rect x="209.41" y="573" width="7.27" height="91.8" fill="#e9b266" stroke="#202020" stroke-width="0.45"/>
<rect x="26.4" y="559.5" width="199.6" height="105.3" fill="none" stroke="#2a2a2a" stroke-width="0.75"/>
<line x1="23.5" y1="664.8" x2="26.4" y2="664.8" stroke="#2a2a2a" stroke-width="0.7"/>
<text x="21.5" y="667.4" font-size="6.4" text-anchor="end" fill="#111">0</text>
<line x1="23.5" y1="646.5" x2="26.4" y2="646.5" stroke="#2a2a2a" stroke-width="0.7"/>
<text x="21.5" y="649.1" font-size="6.4" text-anchor="end" fill="#111">2500</text>
<line x1="23.5" y1="628.2" x2="26.4" y2="628.2" stroke="#2a2a2a" stroke-width="0.7"/>
<text x="21.5" y="630.8" font-size="6.4" text-anchor="end" fill="#111">5000</text>
<line x1="23.5" y1="609.9" x2="26.4" y2="609.9" stroke="#2a2a2a" stroke-width="0.7"/>
<text x="21.5" y="612.5" font-size="6.4" text-anchor="end" fill="#111">7500</text>
<line x1="23.5" y1="591.6" x2="26.4" y2="591.6" stroke="#2a2a2a" stroke-width="0.7"/>
<text x="21.5" y="594.2" font-size="6.4" text-anchor="end" fill="#111">10000</text>
<line x1="23.5" y1="573.3" x2="26.4" y2="573.3" stroke="#2a2a2a" stroke-width="0.7"/>
<text x="21.5" y="575.9" font-size="6.4" text-anchor="end" fill="#111">12500</text>
<line x1="39.3" y1="664.8" x2="39.3" y2="667.6" stroke="#2a2a2a" stroke-width="0.7"/>
<text x="39.3" y="674" font-size="6" text-anchor="middle" fill="#111">2004</text>
<line x1="59.75" y1="664.8" x2="59.75" y2="667.6" stroke="#2a2a2a" stroke-width="0.7"/>
<text x="59.75" y="674" font-size="6" text-anchor="middle" fill="#111">2006</text>
<line x1="80.19" y1="664.8" x2="80.19" y2="667.6" stroke="#2a2a2a" stroke-width="0.7"/>
<text x="80.19" y="674" font-size="6" text-anchor="middle" fill="#111">2008</text>
<line x1="100.62" y1="664.8" x2="100.62" y2="667.6" stroke="#2a2a2a" stroke-width="0.7"/>
<text x="100.62" y="674" font-size="6" text-anchor="middle" fill="#111">2010</text>
<line x1="121.06" y1="664.8" x2="121.06" y2="667.6" stroke="#2a2a2a" stroke-width="0.7"/>
<text x="121.06" y="674" font-size="6" text-anchor="middle" fill="#111">2012</text>
<line x1="141.5" y1="664.8" x2="141.5" y2="667.6" stroke="#2a2a2a" stroke-width="0.7"/>
<text x="141.5" y="674" font-size="6" text-anchor="middle" fill="#111">2014</text>
<line x1="161.95" y1="664.8" x2="161.95" y2="667.6" stroke="#2a2a2a" stroke-width="0.7"/>
<text x="161.95" y="674" font-size="6" text-anchor="middle" fill="#111">2016</text>
<line x1="182.39" y1="664.8" x2="182.39" y2="667.6" stroke="#2a2a2a" stroke-width="0.7"/>
<text x="182.39" y="674" font-size="6" text-anchor="middle" fill="#111">2018</text>
<line x1="202.83" y1="664.8" x2="202.83" y2="667.6" stroke="#2a2a2a" stroke-width="0.7"/>
<text x="202.83" y="674" font-size="6" text-anchor="middle" fill="#111">2020</text>
<rect x="28.7" y="562.1" width="25.67" height="8.5" rx="1.3" fill="#fff" stroke="#2a2a2a" stroke-width="0.5"/>
<rect x="31.2" y="564.55" width="9.8" height="3.4" fill="#e9b266" stroke="#202020" stroke-width="0.4"/>
<text x="44.9" y="568" font-size="4.8" fill="#111">SD</text>
</g>
<g>
<text x="230.95" y="556.5" font-size="9" fill="#111">k.</text>
<line x1="254.75" y1="647" x2="454.35" y2="647" stroke="#dcdcdc" stroke-width="0.45" stroke-dasharray="0.5 0.8"/>
<line x1="254.75" y1="629.2" x2="454.35" y2="629.2" stroke="#dcdcdc" stroke-width="0.45" stroke-dasharray="0.5 0.8"/>
<line x1="254.75" y1="611.4" x2="454.35" y2="611.4" stroke="#dcdcdc" stroke-width="0.45" stroke-dasharray="0.5 0.8"/>
<line x1="254.75" y1="593.6" x2="454.35" y2="593.6" stroke="#dcdcdc" stroke-width="0.45" stroke-dasharray="0.5 0.8"/>
<line x1="254.75" y1="575.8" x2="454.35" y2="575.8" stroke="#dcdcdc" stroke-width="0.45" stroke-dasharray="0.5 0.8"/>
<rect x="264.02" y="617.8" width="7.27" height="47" fill="#e3872e" stroke="#202020" stroke-width="0.45"/>
<rect x="274.24" y="612.1" width="7.27" height="52.7" fill="#e3872e" stroke="#202020" stroke-width="0.45"/>
<rect x="284.46" y="601.7" width="7.27" height="63.1" fill="#e3872e" stroke="#202020" stroke-width="0.45"/>
<rect x="294.68" y="603.6" width="7.27" height="61.2" fill="#e3872e" stroke="#202020" stroke-width="0.45"/>
<rect x="304.9" y="599.4" width="7.27" height="65.4" fill="#e3872e" stroke="#202020" stroke-width="0.45"/>
<rect x="315.12" y="588.9" width="7.27" height="75.9" fill="#e3872e" stroke="#202020" stroke-width="0.45"/>
<rect x="325.34" y="585" width="7.27" height="79.8" fill="#e3872e" stroke="#202020" stroke-width="0.45"/>
<rect x="335.56" y="582.4" width="7.27" height="82.4" fill="#e3872e" stroke="#202020" stroke-width="0.45"/>
<rect x="345.78" y="583.9" width="7.27" height="80.9" fill="#e3872e" stroke="#202020" stroke-width="0.45"/>
<rect x="356" y="569.5" width="7.27" height="95.3" fill="#e3872e" stroke="#202020" stroke-width="0.45"/>
<rect x="366.22" y="575.4" width="7.27" height="89.4" fill="#e3872e" stroke="#202020" stroke-width="0.45"/>
<rect x="376.44" y="579.1" width="7.27" height="85.7" fill="#e3872e" stroke="#202020" stroke-width="0.45"/>
<rect x="386.66" y="580.9" width="7.27" height="83.9" fill="#e3872e" stroke="#202020" stroke-width="0.45"/>
<rect x="396.88" y="580.6" width="7.27" height="84.2" fill="#e3872e" stroke="#202020" stroke-width="0.45"/>
<rect x="407.1" y="591.6" width="7.27" height="73.2" fill="#e3872e" stroke="#202020" stroke-width="0.45"/>
<rect x="417.32" y="584.4" width="7.27" height="80.4" fill="#e3872e" stroke="#202020" stroke-width="0.45"/>
<rect x="427.54" y="582.1" width="7.27" height="82.7" fill="#e3872e" stroke="#202020" stroke-width="0.45"/>
<rect x="437.76" y="576.1" width="7.27" height="88.7" fill="#e3872e" stroke="#202020" stroke-width="0.45"/>
<rect x="254.75" y="559.5" width="199.6" height="105.3" fill="none" stroke="#2a2a2a" stroke-width="0.75"/>
<line x1="251.85" y1="664.8" x2="254.75" y2="664.8" stroke="#2a2a2a" stroke-width="0.7"/>
<text x="249.85" y="667.4" font-size="6.4" text-anchor="end" fill="#111">0</text>
<line x1="251.85" y1="647" x2="254.75" y2="647" stroke="#2a2a2a" stroke-width="0.7"/>
<text x="249.85" y="649.6" font-size="6.4" text-anchor="end" fill="#111">2000</text>
<line x1="251.85" y1="629.2" x2="254.75" y2="629.2" stroke="#2a2a2a" stroke-width="0.7"/>
<text x="249.85" y="631.8" font-size="6.4" text-anchor="end" fill="#111">4000</text>
<line x1="251.85" y1="611.4" x2="254.75" y2="611.4" stroke="#2a2a2a" stroke-width="0.7"/>
<text x="249.85" y="614" font-size="6.4" text-anchor="end" fill="#111">6000</text>
<line x1="251.85" y1="593.6" x2="254.75" y2="593.6" stroke="#2a2a2a" stroke-width="0.7"/>
<text x="249.85" y="596.2" font-size="6.4" text-anchor="end" fill="#111">8000</text>
<line x1="251.85" y1="575.8" x2="254.75" y2="575.8" stroke="#2a2a2a" stroke-width="0.7"/>
<text x="249.85" y="578.4" font-size="6.4" text-anchor="end" fill="#111">10000</text>
<line x1="267.65" y1="664.8" x2="267.65" y2="667.6" stroke="#2a2a2a" stroke-width="0.7"/>
<text x="267.65" y="674" font-size="6" text-anchor="middle" fill="#111">2004</text>
<line x1="288.09" y1="664.8" x2="288.09" y2="667.6" stroke="#2a2a2a" stroke-width="0.7"/>
<text x="288.09" y="674" font-size="6" text-anchor="middle" fill="#111">2006</text>
<line x1="308.53" y1="664.8" x2="308.53" y2="667.6" stroke="#2a2a2a" stroke-width="0.7"/>
<text x="308.53" y="674" font-size="6" text-anchor="middle" fill="#111">2008</text>
<line x1="328.97" y1="664.8" x2="328.97" y2="667.6" stroke="#2a2a2a" stroke-width="0.7"/>
<text x="328.97" y="674" font-size="6" text-anchor="middle" fill="#111">2010</text>
<line x1="349.41" y1="664.8" x2="349.41" y2="667.6" stroke="#2a2a2a" stroke-width="0.7"/>
<text x="349.41" y="674" font-size="6" text-anchor="middle" fill="#111">2012</text>
<line x1="369.85" y1="664.8" x2="369.85" y2="667.6" stroke="#2a2a2a" stroke-width="0.7"/>
<text x="369.85" y="674" font-size="6" text-anchor="middle" fill="#111">2014</text>
<line x1="390.29" y1="664.8" x2="390.29" y2="667.6" stroke="#2a2a2a" stroke-width="0.7"/>
<text x="390.29" y="674" font-size="6" text-anchor="middle" fill="#111">2016</text>
<line x1="410.74" y1="664.8" x2="410.74" y2="667.6" stroke="#2a2a2a" stroke-width="0.7"/>
<text x="410.74" y="674" font-size="6" text-anchor="middle" fill="#111">2018</text>
<line x1="431.17" y1="664.8" x2="431.17" y2="667.6" stroke="#2a2a2a" stroke-width="0.7"/>
<text x="431.17" y="674" font-size="6" text-anchor="middle" fill="#111">2020</text>
<rect x="257.05" y="562.1" width="25.94" height="8.5" rx="1.3" fill="#fff" stroke="#2a2a2a" stroke-width="0.5"/>
<rect x="259.55" y="564.55" width="9.8" height="3.4" fill="#e3872e" stroke="#202020" stroke-width="0.4"/>
<text x="273.25" y="568" font-size="4.8" fill="#111">YG</text>
</g>
<g>
<text x="459.3" y="556.5" font-size="9" fill="#111">l.</text>
<line x1="483.1" y1="647.93" x2="682.7" y2="647.93" stroke="#dcdcdc" stroke-width="0.45" stroke-dasharray="0.5 0.8"/>
<line x1="483.1" y1="631.06" x2="682.7" y2="631.06" stroke="#dcdcdc" stroke-width="0.45" stroke-dasharray="0.5 0.8"/>
<line x1="483.1" y1="614.19" x2="682.7" y2="614.19" stroke="#dcdcdc" stroke-width="0.45" stroke-dasharray="0.5 0.8"/>
<line x1="483.1" y1="597.32" x2="682.7" y2="597.32" stroke="#dcdcdc" stroke-width="0.45" stroke-dasharray="0.5 0.8"/>
<line x1="483.1" y1="580.45" x2="682.7" y2="580.45" stroke="#dcdcdc" stroke-width="0.45" stroke-dasharray="0.5 0.8"/>
<line x1="483.1" y1="563.58" x2="682.7" y2="563.58" stroke="#dcdcdc" stroke-width="0.45" stroke-dasharray="0.5 0.8"/>
<rect x="492.37" y="650.3" width="7.27" height="14.5" fill="#efa452" stroke="#202020" stroke-width="0.45"/>
<rect x="502.59" y="643.3" width="7.27" height="21.5" fill="#efa452" stroke="#202020" stroke-width="0.45"/>
<rect x="512.81" y="630.6" width="7.27" height="34.2" fill="#efa452" stroke="#202020" stroke-width="0.45"/>
<rect x="523.03" y="626.2" width="7.27" height="38.6" fill="#efa452" stroke="#202020" stroke-width="0.45"/>
<rect x="533.25" y="615.7" width="7.27" height="49.1" fill="#efa452" stroke="#202020" stroke-width="0.45"/>
<rect x="543.47" y="613.9" width="7.27" height="50.9" fill="#efa452" stroke="#202020" stroke-width="0.45"/>
<rect x="553.69" y="606.8" width="7.27" height="58" fill="#efa452" stroke="#202020" stroke-width="0.45"/>
<rect x="563.91" y="605.9" width="7.27" height="58.9" fill="#efa452" stroke="#202020" stroke-width="0.45"/>
<rect x="574.13" y="603.8" width="7.27" height="61" fill="#efa452" stroke="#202020" stroke-width="0.45"/>
<rect x="584.35" y="606.2" width="7.27" height="58.6" fill="#efa452" stroke="#202020" stroke-width="0.45"/>
<rect x="594.57" y="602" width="7.27" height="62.8" fill="#efa452" stroke="#202020" stroke-width="0.45"/>
<rect x="604.79" y="602.1" width="7.27" height="62.7" fill="#efa452" stroke="#202020" stroke-width="0.45"/>
<rect x="615.01" y="602" width="7.27" height="62.8" fill="#efa452" stroke="#202020" stroke-width="0.45"/>
<rect x="625.23" y="595.7" width="7.27" height="69.1" fill="#efa452" stroke="#202020" stroke-width="0.45"/>
<rect x="635.45" y="585.8" width="7.27" height="79" fill="#efa452" stroke="#202020" stroke-width="0.45"/>
<rect x="645.67" y="584.7" width="7.27" height="80.1" fill="#efa452" stroke="#202020" stroke-width="0.45"/>
<rect x="655.89" y="575.5" width="7.27" height="89.3" fill="#efa452" stroke="#202020" stroke-width="0.45"/>
<rect x="666.11" y="569.5" width="7.27" height="95.3" fill="#efa452" stroke="#202020" stroke-width="0.45"/>
<rect x="483.1" y="559.5" width="199.6" height="105.3" fill="none" stroke="#2a2a2a" stroke-width="0.75"/>
<line x1="480.2" y1="664.8" x2="483.1" y2="664.8" stroke="#2a2a2a" stroke-width="0.7"/>
<text x="478.2" y="667.4" font-size="6.4" text-anchor="end" fill="#111">0</text>
<line x1="480.2" y1="647.93" x2="483.1" y2="647.93" stroke="#2a2a2a" stroke-width="0.7"/>
<text x="478.2" y="650.53" font-size="6.4" text-anchor="end" fill="#111">1000</text>
<line x1="480.2" y1="631.06" x2="483.1" y2="631.06" stroke="#2a2a2a" stroke-width="0.7"/>
<text x="478.2" y="633.66" font-size="6.4" text-anchor="end" fill="#111">2000</text>
<line x1="480.2" y1="614.19" x2="483.1" y2="614.19" stroke="#2a2a2a" stroke-width="0.7"/>
<text x="478.2" y="616.79" font-size="6.4" text-anchor="end" fill="#111">3000</text>
<line x1="480.2" y1="597.32" x2="483.1" y2="597.32" stroke="#2a2a2a" stroke-width="0.7"/>
<text x="478.2" y="599.92" font-size="6.4" text-anchor="end" fill="#111">4000</text>
<line x1="480.2" y1="580.45" x2="483.1" y2="580.45" stroke="#2a2a2a" stroke-width="0.7"/>
<text x="478.2" y="583.05" font-size="6.4" text-anchor="end" fill="#111">5000</text>
<line x1="480.2" y1="563.58" x2="483.1" y2="563.58" stroke="#2a2a2a" stroke-width="0.7"/>
<text x="478.2" y="566.18" font-size="6.4" text-anchor="end" fill="#111">6000</text>
<line x1="496" y1="664.8" x2="496" y2="667.6" stroke="#2a2a2a" stroke-width="0.7"/>
<text x="496" y="674" font-size="6" text-anchor="middle" fill="#111">2004</text>
<line x1="516.45" y1="664.8" x2="516.45" y2="667.6" stroke="#2a2a2a" stroke-width="0.7"/>
<text x="516.45" y="674" font-size="6" text-anchor="middle" fill="#111">2006</text>
<line x1="536.88" y1="664.8" x2="536.88" y2="667.6" stroke="#2a2a2a" stroke-width="0.7"/>
<text x="536.88" y="674" font-size="6" text-anchor="middle" fill="#111">2008</text>
<line x1="557.33" y1="664.8" x2="557.33" y2="667.6" stroke="#2a2a2a" stroke-width="0.7"/>
<text x="557.33" y="674" font-size="6" text-anchor="middle" fill="#111">2010</text>
<line x1="577.76" y1="664.8" x2="577.76" y2="667.6" stroke="#2a2a2a" stroke-width="0.7"/>
<text x="577.76" y="674" font-size="6" text-anchor="middle" fill="#111">2012</text>
<line x1="598.21" y1="664.8" x2="598.21" y2="667.6" stroke="#2a2a2a" stroke-width="0.7"/>
<text x="598.21" y="674" font-size="6" text-anchor="middle" fill="#111">2014</text>
<line x1="618.64" y1="664.8" x2="618.64" y2="667.6" stroke="#2a2a2a" stroke-width="0.7"/>
<text x="618.64" y="674" font-size="6" text-anchor="middle" fill="#111">2016</text>
<line x1="639.09" y1="664.8" x2="639.09" y2="667.6" stroke="#2a2a2a" stroke-width="0.7"/>
<text x="639.09" y="674" font-size="6" text-anchor="middle" fill="#111">2018</text>
<line x1="659.52" y1="664.8" x2="659.52" y2="667.6" stroke="#2a2a2a" stroke-width="0.7"/>
<text x="659.52" y="674" font-size="6" text-anchor="middle" fill="#111">2020</text>
<rect x="485.4" y="562.1" width="25.4" height="8.5" rx="1.3" fill="#fff" stroke="#2a2a2a" stroke-width="0.5"/>
<rect x="487.9" y="564.55" width="9.8" height="3.4" fill="#efa452" stroke="#202020" stroke-width="0.4"/>
<text x="501.6" y="568" font-size="4.8" fill="#111">SB</text>
</g>
<g>
<text x="2.6" y="693.35" font-size="9" fill="#111">m.</text>
<line x1="26.4" y1="785.55" x2="226" y2="785.55" stroke="#dcdcdc" stroke-width="0.45" stroke-dasharray="0.5 0.8"/>
<line x1="26.4" y1="769.45" x2="226" y2="769.45" stroke="#dcdcdc" stroke-width="0.45" stroke-dasharray="0.5 0.8"/>
<line x1="26.4" y1="753.35" x2="226" y2="753.35" stroke="#dcdcdc" stroke-width="0.45" stroke-dasharray="0.5 0.8"/>
<line x1="26.4" y1="737.25" x2="226" y2="737.25" stroke="#dcdcdc" stroke-width="0.45" stroke-dasharray="0.5 0.8"/>
<line x1="26.4" y1="721.15" x2="226" y2="721.15" stroke="#dcdcdc" stroke-width="0.45" stroke-dasharray="0.5 0.8"/>
<line x1="26.4" y1="705.05" x2="226" y2="705.05" stroke="#dcdcdc" stroke-width="0.45" stroke-dasharray="0.5 0.8"/>
<rect x="35.67" y="769.95" width="7.27" height="31.7" fill="#d4552c" stroke="#202020" stroke-width="0.45"/>
<rect x="45.89" y="768.65" width="7.27" height="33" fill="#d4552c" stroke="#202020" stroke-width="0.45"/>
<rect x="56.11" y="766.85" width="7.27" height="34.8" fill="#d4552c" stroke="#202020" stroke-width="0.45"/>
<rect x="66.33" y="758.25" width="7.27" height="43.4" fill="#d4552c" stroke="#202020" stroke-width="0.45"/>
<rect x="76.55" y="753.45" width="7.27" height="48.2" fill="#d4552c" stroke="#202020" stroke-width="0.45"/>
<rect x="86.77" y="745.95" width="7.27" height="55.7" fill="#d4552c" stroke="#202020" stroke-width="0.45"/>
<rect x="96.99" y="735.65" width="7.27" height="66" fill="#d4552c" stroke="#202020" stroke-width="0.45"/>
<rect x="107.21" y="722.05" width="7.27" height="79.6" fill="#d4552c" stroke="#202020" stroke-width="0.45"/>
<rect x="117.43" y="706.05" width="7.27" height="95.6" fill="#d4552c" stroke="#202020" stroke-width="0.45"/>
<rect x="127.65" y="742.35" width="7.27" height="59.3" fill="#d4552c" stroke="#202020" stroke-width="0.45"/>
<rect x="137.87" y="743.65" width="7.27" height="58" fill="#d4552c" stroke="#202020" stroke-width="0.45"/>
<rect x="148.09" y="743.65" width="7.27" height="58" fill="#d4552c" stroke="#202020" stroke-width="0.45"/>
<rect x="158.31" y="745.65" width="7.27" height="56" fill="#d4552c" stroke="#202020" stroke-width="0.45"/>
<rect x="168.53" y="745.45" width="7.27" height="56.2" fill="#d4552c" stroke="#202020" stroke-width="0.45"/>
<rect x="178.75" y="743.35" width="7.27" height="58.3" fill="#d4552c" stroke="#202020" stroke-width="0.45"/>
<rect x="188.97" y="742.65" width="7.27" height="59" fill="#d4552c" stroke="#202020" stroke-width="0.45"/>
<rect x="199.19" y="742.75" width="7.27" height="58.9" fill="#d4552c" stroke="#202020" stroke-width="0.45"/>
<rect x="209.41" y="745.75" width="7.27" height="55.9" fill="#d4552c" stroke="#202020" stroke-width="0.45"/>
<rect x="26.4" y="696.35" width="199.6" height="105.3" fill="none" stroke="#2a2a2a" stroke-width="0.75"/>
<line x1="23.5" y1="801.65" x2="26.4" y2="801.65" stroke="#2a2a2a" stroke-width="0.7"/>
<text x="21.5" y="804.25" font-size="6.4" text-anchor="end" fill="#111">0</text>
<line x1="23.5" y1="785.55" x2="26.4" y2="785.55" stroke="#2a2a2a" stroke-width="0.7"/>
<text x="21.5" y="788.15" font-size="6.4" text-anchor="end" fill="#111">500</text>
<line x1="23.5" y1="769.45" x2="26.4" y2="769.45" stroke="#2a2a2a" stroke-width="0.7"/>
<text x="21.5" y="772.05" font-size="6.4" text-anchor="end" fill="#111">1000</text>
<line x1="23.5" y1="753.35" x2="26.4" y2="753.35" stroke="#2a2a2a" stroke-width="0.7"/>
<text x="21.5" y="755.95" font-size="6.4" text-anchor="end" fill="#111">1500</text>
<line x1="23.5" y1="737.25" x2="26.4" y2="737.25" stroke="#2a2a2a" stroke-width="0.7"/>
<text x="21.5" y="739.85" font-size="6.4" text-anchor="end" fill="#111">2000</text>
<line x1="23.5" y1="721.15" x2="26.4" y2="721.15" stroke="#2a2a2a" stroke-width="0.7"/>
<text x="21.5" y="723.75" font-size="6.4" text-anchor="end" fill="#111">2500</text>
<line x1="23.5" y1="705.05" x2="26.4" y2="705.05" stroke="#2a2a2a" stroke-width="0.7"/>
<text x="21.5" y="707.65" font-size="6.4" text-anchor="end" fill="#111">3000</text>
<line x1="39.3" y1="801.65" x2="39.3" y2="804.45" stroke="#2a2a2a" stroke-width="0.7"/>
<text x="39.3" y="810.85" font-size="6" text-anchor="middle" fill="#111">2004</text>
<line x1="59.75" y1="801.65" x2="59.75" y2="804.45" stroke="#2a2a2a" stroke-width="0.7"/>
<text x="59.75" y="810.85" font-size="6" text-anchor="middle" fill="#111">2006</text>
<line x1="80.19" y1="801.65" x2="80.19" y2="804.45" stroke="#2a2a2a" stroke-width="0.7"/>
<text x="80.19" y="810.85" font-size="6" text-anchor="middle" fill="#111">2008</text>
<line x1="100.62" y1="801.65" x2="100.62" y2="804.45" stroke="#2a2a2a" stroke-width="0.7"/>
<text x="100.62" y="810.85" font-size="6" text-anchor="middle" fill="#111">2010</text>
<line x1="121.06" y1="801.65" x2="121.06" y2="804.45" stroke="#2a2a2a" stroke-width="0.7"/>
<text x="121.06" y="810.85" font-size="6" text-anchor="middle" fill="#111">2012</text>
<line x1="141.5" y1="801.65" x2="141.5" y2="804.45" stroke="#2a2a2a" stroke-width="0.7"/>
<text x="141.5" y="810.85" font-size="6" text-anchor="middle" fill="#111">2014</text>
<line x1="161.95" y1="801.65" x2="161.95" y2="804.45" stroke="#2a2a2a" stroke-width="0.7"/>
<text x="161.95" y="810.85" font-size="6" text-anchor="middle" fill="#111">2016</text>
<line x1="182.39" y1="801.65" x2="182.39" y2="804.45" stroke="#2a2a2a" stroke-width="0.7"/>
<text x="182.39" y="810.85" font-size="6" text-anchor="middle" fill="#111">2018</text>
<line x1="202.83" y1="801.65" x2="202.83" y2="804.45" stroke="#2a2a2a" stroke-width="0.7"/>
<text x="202.83" y="810.85" font-size="6" text-anchor="middle" fill="#111">2020</text>
<rect x="28.7" y="698.95" width="25.13" height="8.5" rx="1.3" fill="#fff" stroke="#2a2a2a" stroke-width="0.5"/>
<rect x="31.2" y="701.4" width="9.8" height="3.4" fill="#d4552c" stroke="#202020" stroke-width="0.4"/>
<text x="44.9" y="704.85" font-size="4.8" fill="#111">HL</text>
</g>
<g>
<text x="230.95" y="693.35" font-size="9" fill="#111">n.</text>
<line x1="254.75" y1="779.35" x2="454.35" y2="779.35" stroke="#dcdcdc" stroke-width="0.45" stroke-dasharray="0.5 0.8"/>
<line x1="254.75" y1="757.05" x2="454.35" y2="757.05" stroke="#dcdcdc" stroke-width="0.45" stroke-dasharray="0.5 0.8"/>
<line x1="254.75" y1="734.75" x2="454.35" y2="734.75" stroke="#dcdcdc" stroke-width="0.45" stroke-dasharray="0.5 0.8"/>
<line x1="254.75" y1="712.45" x2="454.35" y2="712.45" stroke="#dcdcdc" stroke-width="0.45" stroke-dasharray="0.5 0.8"/>
<rect x="264.02" y="782.75" width="7.27" height="18.9" fill="#c52a31" stroke="#202020" stroke-width="0.45"/>
<rect x="274.24" y="781.35" width="7.27" height="20.3" fill="#c52a31" stroke="#202020" stroke-width="0.45"/>
<rect x="284.46" y="778.85" width="7.27" height="22.8" fill="#c52a31" stroke="#202020" stroke-width="0.45"/>
<rect x="294.68" y="780.15" width="7.27" height="21.5" fill="#c52a31" stroke="#202020" stroke-width="0.45"/>
<rect x="304.9" y="769.65" width="7.27" height="32" fill="#c52a31" stroke="#202020" stroke-width="0.45"/>
<rect x="315.12" y="765.75" width="7.27" height="35.9" fill="#c52a31" stroke="#202020" stroke-width="0.45"/>
<rect x="325.34" y="758.85" width="7.27" height="42.8" fill="#c52a31" stroke="#202020" stroke-width="0.45"/>
<rect x="335.56" y="756.75" width="7.27" height="44.9" fill="#c52a31" stroke="#202020" stroke-width="0.45"/>
<rect x="345.78" y="750.25" width="7.27" height="51.4" fill="#c52a31" stroke="#202020" stroke-width="0.45"/>
<rect x="356" y="752.85" width="7.27" height="48.8" fill="#c52a31" stroke="#202020" stroke-width="0.45"/>
<rect x="366.22" y="750.85" width="7.27" height="50.8" fill="#c52a31" stroke="#202020" stroke-width="0.45"/>
<rect x="376.44" y="753.75" width="7.27" height="47.9" fill="#c52a31" stroke="#202020" stroke-width="0.45"/>
<rect x="386.66" y="752.85" width="7.27" height="48.8" fill="#c52a31" stroke="#202020" stroke-width="0.45"/>
<rect x="396.88" y="748.15" width="7.27" height="53.5" fill="#c52a31" stroke="#202020" stroke-width="0.45"/>
<rect x="407.1" y="737.65" width="7.27" height="64" fill="#c52a31" stroke="#202020" stroke-width="0.45"/>
<rect x="417.32" y="756.55" width="7.27" height="45.1" fill="#c52a31" stroke="#202020" stroke-width="0.45"/>
<rect x="427.54" y="723.65" width="7.27" height="78" fill="#c52a31" stroke="#202020" stroke-width="0.45"/>
<rect x="437.76" y="706.25" width="7.27" height="95.4" fill="#c52a31" stroke="#202020" stroke-width="0.45"/>
<rect x="254.75" y="696.35" width="199.6" height="105.3" fill="none" stroke="#2a2a2a" stroke-width="0.75"/>
<line x1="251.85" y1="801.65" x2="254.75" y2="801.65" stroke="#2a2a2a" stroke-width="0.7"/>
<text x="249.85" y="804.25" font-size="6.4" text-anchor="end" fill="#111">0</text>
<line x1="251.85" y1="779.35" x2="254.75" y2="779.35" stroke="#2a2a2a" stroke-width="0.7"/>
<text x="249.85" y="781.95" font-size="6.4" text-anchor="end" fill="#111">500</text>
<line x1="251.85" y1="757.05" x2="254.75" y2="757.05" stroke="#2a2a2a" stroke-width="0.7"/>
<text x="249.85" y="759.65" font-size="6.4" text-anchor="end" fill="#111">1000</text>
<line x1="251.85" y1="734.75" x2="254.75" y2="734.75" stroke="#2a2a2a" stroke-width="0.7"/>
<text x="249.85" y="737.35" font-size="6.4" text-anchor="end" fill="#111">1500</text>
<line x1="251.85" y1="712.45" x2="254.75" y2="712.45" stroke="#2a2a2a" stroke-width="0.7"/>
<text x="249.85" y="715.05" font-size="6.4" text-anchor="end" fill="#111">2000</text>
<line x1="267.65" y1="801.65" x2="267.65" y2="804.45" stroke="#2a2a2a" stroke-width="0.7"/>
<text x="267.65" y="810.85" font-size="6" text-anchor="middle" fill="#111">2004</text>
<line x1="288.09" y1="801.65" x2="288.09" y2="804.45" stroke="#2a2a2a" stroke-width="0.7"/>
<text x="288.09" y="810.85" font-size="6" text-anchor="middle" fill="#111">2006</text>
<line x1="308.53" y1="801.65" x2="308.53" y2="804.45" stroke="#2a2a2a" stroke-width="0.7"/>
<text x="308.53" y="810.85" font-size="6" text-anchor="middle" fill="#111">2008</text>
<line x1="328.97" y1="801.65" x2="328.97" y2="804.45" stroke="#2a2a2a" stroke-width="0.7"/>
<text x="328.97" y="810.85" font-size="6" text-anchor="middle" fill="#111">2010</text>
<line x1="349.41" y1="801.65" x2="349.41" y2="804.45" stroke="#2a2a2a" stroke-width="0.7"/>
<text x="349.41" y="810.85" font-size="6" text-anchor="middle" fill="#111">2012</text>
<line x1="369.85" y1="801.65" x2="369.85" y2="804.45" stroke="#2a2a2a" stroke-width="0.7"/>
<text x="369.85" y="810.85" font-size="6" text-anchor="middle" fill="#111">2014</text>
<line x1="390.29" y1="801.65" x2="390.29" y2="804.45" stroke="#2a2a2a" stroke-width="0.7"/>
<text x="390.29" y="810.85" font-size="6" text-anchor="middle" fill="#111">2016</text>
<line x1="410.74" y1="801.65" x2="410.74" y2="804.45" stroke="#2a2a2a" stroke-width="0.7"/>
<text x="410.74" y="810.85" font-size="6" text-anchor="middle" fill="#111">2018</text>
<line x1="431.17" y1="801.65" x2="431.17" y2="804.45" stroke="#2a2a2a" stroke-width="0.7"/>
<text x="431.17" y="810.85" font-size="6" text-anchor="middle" fill="#111">2020</text>
<rect x="257.05" y="698.95" width="24.6" height="8.5" rx="1.3" fill="#fff" stroke="#2a2a2a" stroke-width="0.5"/>
<rect x="259.55" y="701.4" width="9.8" height="3.4" fill="#c52a31" stroke="#202020" stroke-width="0.4"/>
<text x="273.25" y="704.85" font-size="4.8" fill="#111">XJ</text>
</g>
<g>
<text x="459.3" y="693.35" font-size="9" fill="#111">o.</text>
<line x1="483.1" y1="775.55" x2="682.7" y2="775.55" stroke="#dcdcdc" stroke-width="0.45" stroke-dasharray="0.5 0.8"/>
<line x1="483.1" y1="749.45" x2="682.7" y2="749.45" stroke="#dcdcdc" stroke-width="0.45" stroke-dasharray="0.5 0.8"/>
<line x1="483.1" y1="723.35" x2="682.7" y2="723.35" stroke="#dcdcdc" stroke-width="0.45" stroke-dasharray="0.5 0.8"/>
<line x1="483.1" y1="697.25" x2="682.7" y2="697.25" stroke="#dcdcdc" stroke-width="0.45" stroke-dasharray="0.5 0.8"/>
<rect x="492.37" y="774.35" width="7.27" height="27.3" fill="#9f2026" stroke="#202020" stroke-width="0.45"/>
<rect x="502.59" y="771.65" width="7.27" height="30" fill="#9f2026" stroke="#202020" stroke-width="0.45"/>
<rect x="512.81" y="765.05" width="7.27" height="36.6" fill="#9f2026" stroke="#202020" stroke-width="0.45"/>
<rect x="523.03" y="759.85" width="7.27" height="41.8" fill="#9f2026" stroke="#202020" stroke-width="0.45"/>
<rect x="533.25" y="754.45" width="7.27" height="47.2" fill="#9f2026" stroke="#202020" stroke-width="0.45"/>
<rect x="543.47" y="740.65" width="7.27" height="61" fill="#9f2026" stroke="#202020" stroke-width="0.45"/>
<rect x="553.69" y="724.75" width="7.27" height="76.9" fill="#9f2026" stroke="#202020" stroke-width="0.45"/>
<rect x="563.91" y="712.55" width="7.27" height="89.1" fill="#9f2026" stroke="#202020" stroke-width="0.45"/>
<rect x="574.13" y="709.65" width="7.27" height="92" fill="#9f2026" stroke="#202020" stroke-width="0.45"/>
<rect x="584.35" y="715.55" width="7.27" height="86.1" fill="#9f2026" stroke="#202020" stroke-width="0.45"/>
<rect x="594.57" y="715.55" width="7.27" height="86.1" fill="#9f2026" stroke="#202020" stroke-width="0.45"/>
<rect x="604.79" y="706.25" width="7.27" height="95.4" fill="#9f2026" stroke="#202020" stroke-width="0.45"/>
<rect x="615.01" y="722.35" width="7.27" height="79.3" fill="#9f2026" stroke="#202020" stroke-width="0.45"/>
<rect x="625.23" y="718.35" width="7.27" height="83.3" fill="#9f2026" stroke="#202020" stroke-width="0.45"/>
<rect x="635.45" y="718.65" width="7.27" height="83" fill="#9f2026" stroke="#202020" stroke-width="0.45"/>
<rect x="645.67" y="722.65" width="7.27" height="79" fill="#9f2026" stroke="#202020" stroke-width="0.45"/>
<rect x="655.89" y="722.45" width="7.27" height="79.2" fill="#9f2026" stroke="#202020" stroke-width="0.45"/>
<rect x="666.11" y="718.35" width="7.27" height="83.3" fill="#9f2026" stroke="#202020" stroke-width="0.45"/>
<rect x="483.1" y="696.35" width="199.6" height="105.3" fill="none" stroke="#2a2a2a" stroke-width="0.75"/>
<line x1="480.2" y1="801.65" x2="483.1" y2="801.65" stroke="#2a2a2a" stroke-width="0.7"/>
<text x="478.2" y="804.25" font-size="6.4" text-anchor="end" fill="#111">0</text>
<line x1="480.2" y1="775.55" x2="483.1" y2="775.55" stroke="#2a2a2a" stroke-width="0.7"/>
<text x="478.2" y="778.15" font-size="6.4" text-anchor="end" fill="#111">100</text>
<line x1="480.2" y1="749.45" x2="483.1" y2="749.45" stroke="#2a2a2a" stroke-width="0.7"/>
<text x="478.2" y="752.05" font-size="6.4" text-anchor="end" fill="#111">200</text>
<line x1="480.2" y1="723.35" x2="483.1" y2="723.35" stroke="#2a2a2a" stroke-width="0.7"/>
<text x="478.2" y="725.95" font-size="6.4" text-anchor="end" fill="#111">300</text>
<line x1="480.2" y1="697.25" x2="483.1" y2="697.25" stroke="#2a2a2a" stroke-width="0.7"/>
<text x="478.2" y="699.85" font-size="6.4" text-anchor="end" fill="#111">400</text>
<line x1="496" y1="801.65" x2="496" y2="804.45" stroke="#2a2a2a" stroke-width="0.7"/>
<text x="496" y="810.85" font-size="6" text-anchor="middle" fill="#111">2004</text>
<line x1="516.45" y1="801.65" x2="516.45" y2="804.45" stroke="#2a2a2a" stroke-width="0.7"/>
<text x="516.45" y="810.85" font-size="6" text-anchor="middle" fill="#111">2006</text>
<line x1="536.88" y1="801.65" x2="536.88" y2="804.45" stroke="#2a2a2a" stroke-width="0.7"/>
<text x="536.88" y="810.85" font-size="6" text-anchor="middle" fill="#111">2008</text>
<line x1="557.33" y1="801.65" x2="557.33" y2="804.45" stroke="#2a2a2a" stroke-width="0.7"/>
<text x="557.33" y="810.85" font-size="6" text-anchor="middle" fill="#111">2010</text>
<line x1="577.76" y1="801.65" x2="577.76" y2="804.45" stroke="#2a2a2a" stroke-width="0.7"/>
<text x="577.76" y="810.85" font-size="6" text-anchor="middle" fill="#111">2012</text>
<line x1="598.21" y1="801.65" x2="598.21" y2="804.45" stroke="#2a2a2a" stroke-width="0.7"/>
<text x="598.21" y="810.85" font-size="6" text-anchor="middle" fill="#111">2014</text>
<line x1="618.64" y1="801.65" x2="618.64" y2="804.45" stroke="#2a2a2a" stroke-width="0.7"/>
<text x="618.64" y="810.85" font-size="6" text-anchor="middle" fill="#111">2016</text>
<line x1="639.09" y1="801.65" x2="639.09" y2="804.45" stroke="#2a2a2a" stroke-width="0.7"/>
<text x="639.09" y="810.85" font-size="6" text-anchor="middle" fill="#111">2018</text>
<line x1="659.52" y1="801.65" x2="659.52" y2="804.45" stroke="#2a2a2a" stroke-width="0.7"/>
<text x="659.52" y="810.85" font-size="6" text-anchor="middle" fill="#111">2020</text>
<rect x="485.4" y="698.95" width="25.93" height="8.5" rx="1.3" fill="#fff" stroke="#2a2a2a" stroke-width="0.5"/>
<rect x="487.9" y="701.4" width="9.8" height="3.4" fill="#9f2026" stroke="#202020" stroke-width="0.4"/>
<text x="501.6" y="704.85" font-size="4.8" fill="#111">ND</text>
</g>
</svg>
</body>
</html>
